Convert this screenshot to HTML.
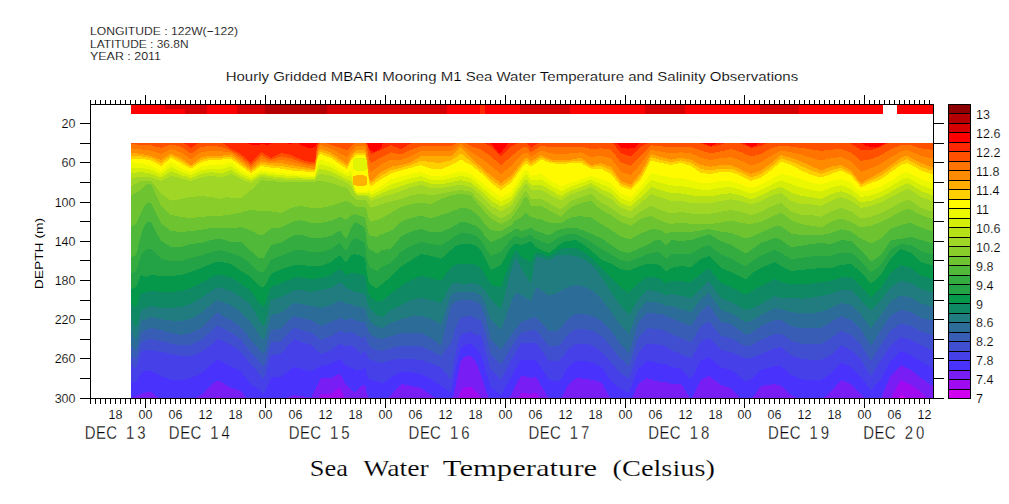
<!DOCTYPE html><html><head><meta charset="utf-8"><style>
html,body{margin:0;padding:0;background:#fff;width:1009px;height:504px;overflow:hidden}
svg{display:block}
text{font-family:"Liberation Sans",sans-serif;fill:#000}
</style></head><body>
<svg width="1009" height="504" viewBox="0 0 1009 504" shape-rendering="crispEdges">
<g><rect x="131" y="143" width="802" height="255" fill="#8c0000"/><polygon points="131,398 131,143 933,143 933,398" fill="#b40000"/><polygon points="131,398 131,143 933,143 933,398" fill="#d70000"/><polygon points="131,398 131,143 933,143 933,398" fill="#ff0000"/><polygon points="131,398 131,143 187,143 189,143.2 191,143.3 193,143 237,143 239,143.2 241,143.2 243,143 247,143 249,143.8 251,144.6 253,144.8 255,144.9 257,145.1 259,144.8 261,144.2 263,144 265,144.5 267,145 269,144.6 271,143.4 273,143 287,143 289,143.8 291,143.9 293,143 297,143 299,143.6 301,144.9 303,145.8 305,146.7 307,147.6 309,147.9 311,147.7 313,147.5 315,147.3 317,143 367,143 369,148.4 371,150.5 373,151.7 375,151.6 377,150.7 379,149.6 381,148 383,143.3 385,143 491,143 493,145.6 495,148.7 497,150.9 499,153.2 501,152.9 503,150.1 505,147.3 507,144.8 509,143 615,143 617,143.5 619,146 621,147.5 623,147.8 625,148.2 627,148.5 629,148.5 631,148.2 633,147.8 635,147.5 637,145.7 639,143 701,143 703,143.1 705,143.8 707,144.4 709,145.1 711,145.8 713,145.2 715,143.8 717,143 743,143 745,143.4 747,145.1 749,146 751,146.6 753,146.5 755,146.1 757,144.2 759,143 861,143 863,143.9 865,145.9 867,146.2 869,146.5 871,146.7 873,147 875,147.3 877,146.9 879,146.4 881,145.8 883,144.6 885,143.5 887,143 933,143 933,398" fill="#ff2800"/><polygon points="131,398 131,143 183,143 185,143.8 187,145.1 189,146.5 191,147.9 193,146.6 195,145.4 197,144.1 199,143 221,143 223,143.4 225,144.6 227,146 229,147.5 231,149 233,150.1 235,151.1 237,152.2 239,153.2 241,154.3 243,156 245,157.8 247,159.5 249,161.3 251,163 253,160.8 255,158.6 257,156.4 259,154.2 261,152 263,153.2 265,154.4 267,155.5 269,156.7 271,157.9 273,156.9 275,155.9 277,155 279,154 281,153 283,153.4 285,153.8 287,154.2 289,154.6 291,155 293,155.9 295,156.8 297,157.8 299,158.7 301,159.6 303,160.1 305,160.7 307,161.2 309,161.8 311,162.3 313,162.2 315,162 317,146 319,143 345,143 347,143.4 349,143 367,143 369,149.4 371,154.3 373,153.4 375,152.6 377,151.7 379,150.9 381,150 383,149 385,148.1 387,147.1 389,146.2 391,145.2 393,146 395,146.9 397,147.7 399,148.6 401,149.4 403,148.2 405,147 407,145.8 409,144.6 411,143.4 413,143 483,143 485,143.3 487,144.5 489,145.6 491,146.8 493,148.7 495,150.7 497,152.6 499,154.6 501,156.5 503,154.6 505,152.6 507,150.7 509,148.7 511,146.8 513,145.6 515,144.5 517,143.3 519,143 527,143 529,145.1 531,147.9 533,146.5 535,145.1 537,143.8 539,143 611,143 613,143.4 615,145.9 617,148.3 619,150.8 621,153.2 623,153.9 625,154.5 627,155.2 629,155.8 631,156.5 633,154.6 635,152.6 637,150.7 639,148.7 641,146.8 643,145.6 645,144.5 647,143.3 649,143 699,143 701,143.4 703,144.1 705,144.8 707,145.4 709,146.1 711,146.8 713,146.4 715,145.9 717,145.5 719,145 721,144.6 723,143.9 725,143.2 727,143 739,143 741,143.4 743,144.3 745,145.2 747,146.1 749,147 751,147.9 753,147.5 755,147.1 757,146.6 759,146.2 761,145.8 763,144.8 765,143.9 767,143 847,143 849,143.1 851,143.6 853,144.9 855,146.2 857,147.4 859,148.7 861,150 871,150 873,149.4 875,148.7 877,148.1 879,147.4 881,146.8 883,145.6 885,144.5 887,143.3 889,143 933,143 933,398" fill="#ff5000"/><polygon points="131,398 131,144.2 133,144.3 135,144.4 137,144.5 139,144.6 141,144.7 143,144.8 145,144.9 147,145.1 149,145.2 151,145.3 153,145.9 155,146.4 157,146.9 159,147.3 161,147.7 163,147.1 165,146.4 167,145.8 169,145.1 171,144.5 173,144.9 175,145.4 177,145.8 179,146.2 181,146.7 183,148.1 185,149.4 187,150.8 189,152.2 191,153.6 193,152.3 195,150.9 197,149.6 199,148.2 201,146.9 203,146.7 205,146.5 207,146.3 209,146 211,145.8 213,146 215,146.2 217,146.4 219,146.6 221,146.8 223,147.5 225,148.1 227,148.9 229,149.8 231,150.8 233,151.9 235,153.1 237,154.3 239,155.5 241,156.7 243,158.4 245,160.1 247,161.8 249,163.5 251,165.2 253,163.2 255,161.2 257,159.1 259,157.1 261,155.1 263,156 265,156.9 267,157.9 269,158.8 271,159.7 273,159 275,158.4 277,157.7 279,157.1 281,156.4 283,156.8 285,157.2 287,157.6 289,157.9 291,158.3 293,159.1 295,159.8 297,160.5 299,161.3 301,162 303,162.5 305,163 307,163.4 309,163.9 311,164.4 313,164.3 315,164.2 317,149.4 319,143 325,143 327,143.6 329,144.2 331,144.8 333,145.5 335,146.1 337,146.7 339,147.4 341,148 343,148.8 345,149.5 347,150.3 349,148.1 351,146 353,144.4 355,143 365,143 367,147.6 369,158.9 371,163.2 373,162 375,160.9 377,159.7 379,158.5 381,157.3 383,156.3 385,155.4 387,154.4 389,153.4 391,152.4 393,152.8 395,153.3 397,153.7 399,154.2 401,154.6 403,153.6 405,152.6 407,151.7 409,150.7 411,149.7 413,149 415,148.2 417,147.5 419,146.7 421,146 451,146 453,145 455,144 457,143 465,143 467,144 469,145 471,146 473,146.7 475,147.4 477,148.1 479,148.9 481,149.6 483,151 485,152.3 487,153.7 489,155.1 491,156.4 493,158.2 495,160 497,161.8 499,163.5 501,165.3 503,163.5 505,161.8 507,160 509,158.2 511,156.4 513,154.8 515,153.2 517,151.6 519,150 521,148.3 523,147.5 525,146.7 527,147.5 529,150 531,152.4 533,151.1 535,149.7 537,148.4 539,147.1 541,145.7 543,146 545,146.3 547,146.6 549,146.9 551,147.2 553,147.3 555,147.3 557,147.4 559,147.4 561,147.5 563,147.4 565,147.4 567,147.3 569,147.3 571,147.2 573,147.1 575,147 577,146.9 579,146.7 581,146.6 583,147.1 585,147.6 587,148.1 589,148.5 591,149 593,148.9 595,148.8 597,148.6 599,148.5 601,148.4 603,148.6 605,148.9 607,149.1 609,149.4 611,149.6 613,152.2 615,154.7 617,157.3 619,159.9 621,162.5 623,163.1 625,163.8 627,164.5 629,165.2 631,165.9 633,163.7 635,161.6 637,159.5 639,157.3 641,155.2 643,153.2 645,151.3 647,149.3 649,147.3 651,145.3 653,145.5 655,145.7 657,145.9 659,146.1 661,146.3 663,146.5 665,146.7 667,146.9 669,147 671,147.2 673,147.1 675,147 677,146.9 679,146.7 681,146.6 683,146.7 685,146.9 687,147 689,147.1 691,147.2 693,147.9 695,148.6 697,149.2 699,149.9 701,150.6 703,151.2 705,151.7 707,152.3 709,152.9 711,153.5 713,153.1 715,152.6 717,152.2 719,151.8 721,151.4 723,150.9 725,150.4 727,150 729,149.5 731,149 733,149.6 735,150.2 737,150.9 739,151.5 741,152.1 743,153 745,153.9 747,154.8 749,155.7 751,156.6 753,156.1 755,155.6 757,155 759,154.5 761,154 763,152.9 765,151.8 767,150.6 769,149.5 771,148.4 773,147.9 775,147.3 777,146.8 779,146.2 781,145.7 783,145.9 785,146.1 787,146.2 789,146.4 791,146.6 793,146.9 795,147.1 797,147.3 799,147.6 801,147.8 803,148.1 805,148.4 807,148.7 809,149 811,149.3 813,149.6 815,149.9 817,150.2 819,150.5 821,150.8 823,150.6 825,150.3 827,150.1 829,149.8 831,149.6 833,149.5 835,149.4 837,149.2 839,149.1 841,149 843,149.7 845,150.4 847,151.1 849,151.8 851,152.5 853,154.2 855,155.9 857,157.6 859,159.3 861,161 863,160.6 865,160.2 867,159.9 869,159.5 871,159.2 873,158.4 875,157.6 877,156.8 879,156 881,155.2 883,154 885,152.7 887,151.5 889,150.2 891,149 893,148.3 895,147.5 897,146.8 899,146 901,145.3 903,145 905,144.8 907,144.5 909,144.9 911,145.3 913,145.9 915,146.5 917,147.2 919,147.8 921,148.4 923,148.6 925,148.9 927,149.1 929,149.4 931,149.6 933,149.6 933,398" fill="#ff7300"/><polygon points="131,398 131,148.3 133,148.5 135,148.7 137,148.9 139,149.1 141,149.3 143,149.6 145,149.9 147,150.1 149,150.4 151,150.7 153,151.3 155,152 157,152.6 159,153.3 161,153.9 163,152.9 165,151.9 167,150.9 169,150 171,149 173,149.7 175,150.3 177,151 179,151.7 181,152.3 183,153.7 185,155.1 187,156.5 189,157.9 191,159.3 193,157.9 195,156.5 197,155 199,153.6 201,152.2 203,151.9 205,151.6 207,151.3 209,151 211,150.7 213,150.8 215,151 217,151.1 219,151.3 221,151.4 223,151.5 225,151.7 227,151.9 229,152.2 231,152.5 233,153.8 235,155.1 237,156.4 239,157.7 241,159 243,160.7 245,162.4 247,164 249,165.7 251,167.3 253,165.5 255,163.7 257,161.9 259,160.1 261,158.3 263,158.9 265,159.5 267,160.2 269,160.8 271,161.4 273,161.1 275,160.8 277,160.5 279,160.1 281,159.8 283,160.2 285,160.5 287,160.9 289,161.3 291,161.7 293,162.2 295,162.8 297,163.3 299,163.9 301,164.4 303,164.8 305,165.2 307,165.7 309,166.1 311,166.5 313,166.4 315,166.3 317,152.8 319,145.8 321,145.3 323,146 325,146.7 327,147.3 329,148 331,148.7 333,149.7 335,150.7 337,151.7 339,152.8 341,153.8 343,154.9 345,156 347,157.1 349,154.1 351,151 353,149 355,147 357,146 365,146 367,153.5 369,168.5 371,172.1 373,170.6 375,169.1 377,167.6 379,166.2 381,164.7 383,163.7 385,162.6 387,161.6 389,160.6 391,159.6 393,159.6 395,159.7 397,159.7 399,159.8 401,159.8 403,159 405,158.3 407,157.5 409,156.8 411,156 413,155 415,154 417,153 419,152 421,151 451,151 453,149.6 455,148.2 457,146.8 459,145.4 461,144 463,145.6 465,147.2 467,148.8 469,150.3 471,151.9 473,153.2 475,154.4 477,155.7 479,156.9 481,158.2 483,159.8 485,161.3 487,162.9 489,164.5 491,166.1 493,167.7 495,169.3 497,170.9 499,172.5 501,174.1 503,172.5 505,170.9 507,169.3 509,167.7 511,166.1 513,164 515,161.9 517,159.8 519,157.7 521,155.7 523,154.1 525,152.5 527,152.7 529,154.8 531,156.9 533,155.6 535,154.3 537,153 539,151.8 541,150.5 543,151.1 545,151.6 547,152.2 549,152.8 551,153.4 553,153.5 555,153.6 557,153.8 559,153.9 561,154 563,153.9 565,153.8 567,153.6 569,153.5 571,153.4 573,153.2 575,152.9 577,152.7 579,152.5 581,152.3 583,153.2 585,154.2 587,155.1 589,156.1 591,157 593,156.8 595,156.5 597,156.3 599,156 601,155.8 603,156.3 605,156.8 607,157.2 609,157.7 611,158.2 613,160.9 615,163.6 617,166.3 619,169 621,171.7 623,172.4 625,173.1 627,173.8 629,174.5 631,175.2 633,172.9 635,170.6 637,168.3 639,165.9 641,163.6 643,160.8 645,158 647,155.2 649,152.5 651,149.7 653,150.1 655,150.5 657,150.9 659,151.3 661,151.7 663,152 665,152.4 667,152.7 669,153.1 671,153.4 673,153.2 675,152.9 677,152.7 679,152.5 681,152.3 683,152.5 685,152.7 687,152.9 689,153.2 691,153.4 693,154.3 695,155.2 697,156 699,156.9 701,157.8 703,158.3 705,158.7 707,159.2 709,159.7 711,160.1 713,159.7 715,159.4 717,159 719,158.6 721,158.2 723,158 725,157.7 727,157.5 729,157.2 731,157 733,157.8 735,158.5 737,159.3 739,160 741,160.8 743,161.7 745,162.6 747,163.5 749,164.4 751,165.3 753,164.7 755,164.1 757,163.4 759,162.8 761,162.2 763,160.9 765,159.6 767,158.4 769,157.1 771,155.8 773,154.7 775,153.6 777,152.5 779,151.4 781,150.3 783,150.7 785,151.1 787,151.5 789,151.9 791,152.3 793,152.7 795,153.2 797,153.7 799,154.1 801,154.6 803,155.2 805,155.8 807,156.4 809,157.1 811,157.7 813,158.3 815,158.8 817,159.4 819,160 821,160.6 823,160.1 825,159.6 827,159.2 829,158.7 831,158.2 833,158 835,157.7 837,157.5 839,157.2 841,157 843,157.9 845,158.8 847,159.7 849,160.6 851,161.5 853,163.6 855,165.7 857,167.7 859,169.8 861,171.9 863,171.2 865,170.5 867,169.8 869,169.1 871,168.3 873,167.4 875,166.4 877,165.5 879,164.5 881,163.6 883,162.3 885,161 887,159.6 889,158.3 891,157 893,155.9 895,154.8 897,153.8 899,152.7 901,151.6 903,151.1 905,150.5 907,150 909,150.8 911,151.6 913,152.4 915,153.3 917,154.1 919,155 921,155.8 923,156.3 925,156.8 927,157.2 929,157.7 931,158.2 933,158.2 933,398" fill="#ff8c00"/><polygon points="131,398 131,152.5 133,152.8 135,153.1 137,153.4 139,153.7 141,154 143,154.4 145,154.8 147,155.2 149,155.6 151,156 153,156.8 155,157.6 157,158.4 159,159.2 161,160 163,158.7 165,157.4 167,156.1 169,154.8 171,153.5 173,154.4 175,155.3 177,156.2 179,157.1 181,158 183,159.4 185,160.8 187,162.2 189,163.6 191,165 193,163.5 195,162 197,160.5 199,159 201,157.5 203,157.1 205,156.7 207,156.3 209,155.9 211,155.5 213,155.6 215,155.7 217,155.8 219,155.9 221,156 223,155.6 225,155.2 227,154.9 229,154.6 231,154.3 233,155.7 235,157.1 237,158.6 239,160 241,161.4 243,163 245,164.6 247,166.3 249,167.9 251,169.5 253,167.9 255,166.3 257,164.6 259,163 261,161.4 263,161.8 265,162.1 267,162.5 269,162.8 271,163.2 281,163.2 283,163.6 285,163.9 287,164.3 289,164.6 291,165 293,165.4 295,165.7 297,166.1 299,166.4 301,166.8 303,167.2 305,167.5 307,167.9 309,168.2 311,168.6 313,168.6 315,168.5 317,156.2 319,149.7 321,149 323,149.7 325,150.4 327,151.1 329,151.8 331,152.5 333,153.9 335,155.3 337,156.8 339,158.2 341,159.6 343,161.1 345,162.5 347,164 349,160 351,156 353,153.6 355,151.2 357,150 365,150 367,159.3 369,178 371,181 373,179.2 375,177.4 377,175.6 379,173.8 381,172 383,171 385,169.9 387,168.9 389,167.8 391,166.8 393,166.4 395,166.1 397,165.7 399,165.4 401,165 403,164.5 405,163.9 407,163.4 409,162.8 411,162.3 413,161 415,159.8 417,158.5 419,157.3 421,156 451,156 453,154.2 455,152.4 457,150.6 459,148.8 461,147 463,149.2 465,151.4 467,153.5 469,155.7 471,157.9 473,159.7 475,161.5 477,163.2 479,165 481,166.8 483,168.6 485,170.4 487,172.1 489,173.9 491,175.7 493,177.1 495,178.6 497,180 499,181.5 501,182.9 503,181.5 505,180 507,178.6 509,177.1 511,175.7 513,173.2 515,170.6 517,168.1 519,165.5 521,163 523,160.6 525,158.2 527,157.9 529,159.6 531,161.4 533,160.2 535,158.9 537,157.7 539,156.4 541,155.2 543,156.1 545,157 547,157.8 549,158.7 551,159.6 553,159.8 555,160 557,160.1 559,160.3 561,160.5 563,160.3 565,160.1 567,160 569,159.8 571,159.6 573,159.3 575,158.9 577,158.6 579,158.2 581,157.9 583,159.3 585,160.7 587,162.2 589,163.6 591,165 593,164.6 595,164.3 597,163.9 599,163.6 601,163.2 603,163.9 605,164.6 607,165.4 609,166.1 611,166.8 613,169.6 615,172.5 617,175.3 619,178.2 621,181 623,181.7 625,182.4 627,183.2 629,183.9 631,184.6 633,182.1 635,179.6 637,177 639,174.5 641,172 643,168.4 645,164.8 647,161.2 649,157.6 651,154 653,154.6 655,155.2 657,155.8 659,156.4 661,157 663,157.5 665,158 667,158.6 669,159.1 671,159.6 673,159.3 675,158.9 677,158.6 679,158.2 681,157.9 683,158.2 685,158.6 687,158.9 689,159.3 691,159.6 693,160.7 695,161.8 697,162.8 699,163.9 701,165 703,165.4 705,165.7 707,166.1 709,166.4 711,166.8 713,166.4 715,166.1 717,165.7 719,165.4 721,165 731,165 733,165.9 735,166.8 737,167.7 739,168.6 741,169.5 743,170.4 745,171.3 747,172.2 749,173.1 751,174 753,173.3 755,172.6 757,171.8 759,171.1 761,170.4 763,169 765,167.5 767,166.1 769,164.6 771,163.2 773,161.6 775,159.9 777,158.3 779,156.6 781,155 783,155.6 785,156.2 787,156.7 789,157.3 791,157.9 793,158.6 795,159.3 797,160 799,160.7 801,161.4 803,162.3 805,163.2 807,164.2 809,165.1 811,166 813,166.9 815,167.8 817,168.6 819,169.5 821,170.4 823,169.7 825,169 827,168.2 829,167.5 831,166.8 833,166.4 835,166.1 837,165.7 839,165.4 841,165 843,166.1 845,167.2 847,168.2 849,169.3 851,170.4 853,172.9 855,175.4 857,177.9 859,180.4 861,182.9 863,181.8 865,180.7 867,179.7 869,178.6 871,177.5 873,176.4 875,175.3 877,174.2 879,173.1 881,172 883,170.6 885,169.2 887,167.8 889,166.4 891,165 893,163.6 895,162.2 897,160.7 899,159.3 901,157.9 903,157.1 905,156.3 907,155.5 909,156.7 911,157.9 913,159 915,160 917,161.1 919,162.1 921,163.2 923,163.9 925,164.6 927,165.4 929,166.1 931,166.8 933,166.8 933,398" fill="#ffac00"/><polygon points="131,398 131,155.6 133,155.8 135,155.9 137,156.1 139,156.2 141,156.4 143,156.7 145,157.1 147,157.4 149,157.8 151,158.2 153,159.2 155,160 157,161 159,162 161,163 163,161.5 165,160.1 167,158.6 169,157.2 171,155.7 173,156.7 175,157.7 177,158.6 179,159.6 181,160.6 183,161.8 185,163.1 187,164.3 189,165.6 191,166.8 193,165.4 195,164 197,162.7 199,161.3 201,159.9 203,159.4 205,159 207,158.5 209,158 211,157.5 213,157.6 215,157.6 217,157.7 219,157.8 221,157.8 223,157.5 225,157.2 227,156.9 229,156.7 231,156.6 233,158 235,159.4 237,160.8 239,162.3 241,163.7 243,165.2 245,166.7 247,168.2 249,169.7 251,171.2 253,169.7 255,168.2 257,166.7 259,165.2 261,163.7 263,164 265,164.4 267,164.7 269,165.1 271,165.4 273,165.5 275,165.6 277,165.7 279,165.8 281,165.9 283,166.3 285,166.6 287,167 289,167.3 291,167.7 293,168 295,168.2 297,168.5 299,168.7 301,169 303,169.3 305,169.5 307,169.8 309,170 311,170.3 313,170.3 315,170.2 317,158.4 319,152.2 321,151.7 323,152.4 325,153.1 327,153.8 329,154.5 331,155.2 333,156.6 335,158 337,159.5 339,160.9 341,162.3 343,163.7 345,165.1 347,166.5 349,162.5 351,158.5 353,156.1 355,153.7 357,152.5 365,152.5 367,161.8 369,180.5 371,183.7 373,182.1 375,180.5 377,178.9 379,177.3 381,175.6 383,174.5 385,173.4 387,172.3 389,171.2 391,170.1 393,169.7 395,169.2 397,168.7 399,168.2 401,167.7 403,167.2 405,166.6 407,166.1 409,165.5 411,165 413,164.1 415,163.2 417,162.3 419,161.4 421,160.5 423,160.9 425,161.2 427,161.6 429,161.9 431,162.3 433,162.4 435,162.5 437,162.6 439,162.7 441,162.7 443,162.3 445,161.8 447,161.4 449,160.9 451,160.5 453,159.1 455,157.6 457,156.2 459,154.7 461,153.3 463,154.9 465,156.6 467,158.2 469,159.8 471,161.4 473,163.1 475,164.8 477,166.5 479,168.2 481,169.9 483,171.8 485,173.7 487,175.5 489,177.4 491,179.3 493,180.7 495,182.2 497,183.6 499,185 501,186.4 503,185 505,183.6 507,182.2 509,180.7 511,179.3 513,176.6 515,174 517,171.3 519,168.7 521,166 523,163.6 525,161.2 527,160.8 529,162.5 531,164.1 533,162.8 535,161.4 537,160.1 539,158.7 541,157.4 543,158.2 545,159 547,159.8 549,160.6 551,161.4 553,161.6 555,161.7 557,161.9 559,162.1 561,162.2 563,162.1 565,161.9 567,161.7 569,161.6 571,161.4 573,161.2 575,161.1 577,160.9 579,160.7 581,160.5 583,161.8 585,163 587,164.3 589,165.5 591,166.8 593,166.6 595,166.4 597,166.3 599,166.1 601,165.9 603,166.8 605,167.7 607,168.6 609,169.5 611,170.4 613,173.1 615,175.7 617,178.4 619,181 621,183.7 623,184.4 625,185.1 627,185.9 629,186.6 631,187.3 633,185 635,182.6 637,180.3 639,178 641,175.6 643,172 645,168.3 647,164.6 649,160.9 651,157.2 653,157.8 655,158.3 657,158.9 659,159.4 661,160 663,160.5 665,160.9 667,161.4 669,161.8 671,162.3 673,161.9 675,161.6 677,161.2 679,160.8 681,160.4 683,160.9 685,161.4 687,161.8 689,162.3 691,162.8 693,164 695,165.2 697,166.5 699,167.7 701,169 703,169.3 705,169.6 707,169.8 709,170.1 711,170.4 713,170 715,169.6 717,169.3 719,168.9 721,168.5 731,168.5 733,169.3 735,170.1 737,171 739,171.8 741,172.6 743,173.6 745,174.6 747,175.5 749,176.5 751,177.5 753,176.8 755,176.1 757,175.4 759,174.7 761,173.9 763,172.5 765,171.1 767,169.7 769,168.2 771,166.8 773,165.1 775,163.4 777,161.7 779,160 781,158.2 783,158.9 785,159.5 787,160.2 789,160.8 791,161.4 793,162.3 795,163.2 797,164.1 799,165 801,165.9 803,166.8 805,167.7 807,168.6 809,169.5 811,170.4 813,171.1 815,171.8 817,172.5 819,173.2 821,173.9 823,173.2 825,172.5 827,171.8 829,171.1 831,170.4 833,169.9 835,169.3 837,168.8 839,168.2 841,167.7 843,168.8 845,169.8 847,170.9 849,172 851,173 853,175.5 855,177.9 857,180.3 859,182.7 861,185.1 863,184.1 865,183.1 867,182.2 869,181.2 871,180.2 873,179.3 875,178.4 877,177.5 879,176.6 881,175.6 883,174.2 885,172.8 887,171.4 889,169.9 891,168.5 893,167.1 895,165.7 897,164.3 899,162.9 901,161.4 903,160.7 905,160 907,159.2 909,160.3 911,161.4 913,162.5 915,163.6 917,164.7 919,165.7 921,166.8 923,167.5 925,168.2 927,169 929,169.7 931,170.4 933,170.4 933,398" fill="#ffd000"/><polygon points="131,398 131,158.8 141,158.8 143,159.1 145,159.4 147,159.7 149,160.1 151,160.5 153,161.5 155,162.5 157,163.6 159,164.8 161,166 163,164.4 165,162.8 167,161.1 169,159.5 171,157.9 173,159 175,160 177,161.1 179,162.1 181,163.2 183,164.3 185,165.4 187,166.4 189,167.5 191,168.6 193,167.3 195,166.1 197,164.8 199,163.6 201,162.3 203,161.8 205,161.2 207,160.7 209,160.1 211,159.6 221,159.6 223,159.4 225,159.1 227,159 229,158.9 231,158.8 233,160.2 235,161.7 237,163.1 239,164.6 241,166 243,167.4 245,168.8 247,170.2 249,171.6 251,173 253,171.6 255,170.2 257,168.8 259,167.4 261,166 263,166.3 265,166.7 267,167 269,167.4 271,167.7 273,167.9 275,168.1 277,168.2 279,168.4 281,168.6 283,169 285,169.3 287,169.7 289,170 291,170.4 293,170.6 295,170.7 297,170.9 299,171 301,171.2 303,171.4 305,171.5 307,171.7 309,171.8 311,172 315,172 317,160.7 319,154.8 321,154.3 323,155 325,155.7 327,156.5 329,157.2 331,157.9 333,159.3 335,160.7 337,162.2 339,163.6 341,165 343,166.3 345,167.7 347,169 349,165 351,161 353,158.6 355,156.2 357,155 365,155 367,164.3 369,183 371,186.4 373,185 375,183.6 377,182.1 379,180.7 381,179.3 383,178.1 385,177 387,175.8 389,174.7 391,173.5 393,172.9 395,172.3 397,171.6 399,171 401,170.4 403,169.9 405,169.3 407,168.8 409,168.2 411,167.7 413,167.2 415,166.6 417,166.1 419,165.5 421,165 423,165.7 425,166.4 427,167.2 429,167.9 431,168.6 433,168.8 435,169 437,169.1 439,169.3 441,169.5 443,168.6 445,167.7 447,166.8 449,165.9 451,165 453,163.9 455,162.8 457,161.8 459,160.7 461,159.6 463,160.7 465,161.8 467,162.8 469,163.9 471,165 473,166.6 475,168.2 477,169.8 479,171.4 481,173 483,175 485,177 487,178.9 489,180.9 491,182.9 493,184.3 495,185.7 497,187.2 499,188.6 501,190 503,188.6 505,187.2 507,185.7 509,184.3 511,182.9 513,180.1 515,177.3 517,174.6 519,171.8 521,169 523,166.6 525,164.2 527,163.8 529,165.3 531,166.8 533,165.4 535,163.9 537,162.5 539,161 541,159.6 543,160.3 545,161 547,161.8 549,162.5 551,163.2 553,163.4 555,163.5 557,163.7 559,163.8 561,164 563,163.8 565,163.7 567,163.5 569,163.4 571,163.2 581,163.2 583,164.3 585,165.4 587,166.4 589,167.5 591,168.6 601,168.6 603,169.7 605,170.8 607,171.8 609,172.9 611,174 613,176.5 615,179 617,181.4 619,183.9 621,186.4 623,187.1 625,187.8 627,188.6 629,189.3 631,190 633,187.9 635,185.7 637,183.6 639,181.4 641,179.3 643,175.5 645,171.8 647,168 649,164.3 651,160.5 653,161 655,161.5 657,162 659,162.5 661,163 663,163.4 665,163.8 667,164.2 669,164.6 671,165 673,164.6 675,164.2 677,163.8 679,163.4 681,163 683,163.6 685,164.2 687,164.7 689,165.3 691,165.9 693,167.3 695,168.7 697,170.2 699,171.6 701,173 703,173.2 705,173.4 707,173.6 709,173.8 711,174 713,173.6 715,173.2 717,172.8 719,172.4 721,172 731,172 733,172.7 735,173.5 737,174.2 739,175 741,175.7 743,176.8 745,177.8 747,178.9 749,179.9 751,181 753,180.3 755,179.6 757,178.9 759,178.2 761,177.5 763,176.1 765,174.7 767,173.2 769,171.8 771,170.4 773,168.6 775,166.8 777,165.1 779,163.3 781,161.5 783,162.2 785,162.9 787,163.6 789,164.3 791,165 793,166.1 795,167.2 797,168.2 799,169.3 801,170.4 803,171.3 805,172.2 807,173 809,173.9 811,174.8 813,175.3 815,175.9 817,176.4 819,177 821,177.5 823,176.8 825,176.1 827,175.4 829,174.7 831,174 833,173.3 835,172.6 837,171.8 839,171.1 841,170.4 843,171.5 845,172.5 847,173.6 849,174.6 851,175.7 853,178 855,180.3 857,182.7 859,185 861,187.3 863,186.4 865,185.5 867,184.7 869,183.8 871,182.9 873,182.2 875,181.5 877,180.7 879,180 881,179.3 883,177.8 885,176.4 887,174.9 889,173.5 891,172 893,170.6 895,169.2 897,167.8 899,166.4 901,165 903,164.3 905,163.7 907,163 909,164 911,165 913,166.1 915,167.2 917,168.2 919,169.3 921,170.4 923,171.1 925,171.8 927,172.6 929,173.3 931,174 933,174 933,398" fill="#fffa00"/><polygon points="131,398 131,162.3 133,162.4 135,162.6 137,162.7 139,162.9 141,163 143,163.6 145,164.2 147,164.8 149,165.4 151,166 153,167 155,168 157,169 159,170 161,171 163,169.3 165,167.5 167,165.8 169,164 171,162.3 173,163.6 175,164.8 177,166.1 179,167.3 181,168.6 183,169.3 185,170 187,170.6 189,171.3 191,172 193,171 195,169.9 197,168.9 199,167.8 201,166.8 203,166.4 205,166.1 207,165.7 209,165.4 211,165 221,165 223,164.4 225,163.8 227,163.3 229,162.8 231,162.3 233,163.9 235,165.5 237,167.2 239,168.8 241,170.4 243,171.5 245,172.5 247,173.6 249,174.6 251,175.7 253,174.6 255,173.6 257,172.5 259,171.5 261,170.4 263,170.7 265,171 267,171.4 269,171.7 271,172 273,172.2 275,172.4 277,172.6 279,172.8 281,173 283,173.2 285,173.4 287,173.6 289,173.8 291,174 293,174.2 295,174.3 297,174.5 299,174.6 301,174.8 303,175 305,175.2 307,175.3 309,175.5 311,175.7 315,175.7 317,165.2 319,159.9 321,159.6 323,160.3 325,161 327,161.8 329,162.5 331,163.2 333,164.5 335,165.7 337,167 339,168.2 341,169.5 343,170.7 345,171.8 347,173 349,171.5 351,170 353,178.8 355,187.6 357,192 365,192 367,191 369,189 371,191.8 373,190.7 375,189.6 377,188.6 379,187.5 381,186.4 383,185 385,183.6 387,182.3 389,180.9 391,179.5 393,178.9 395,178.3 397,177.8 399,177.2 401,176.6 403,176.1 405,175.6 407,175 409,174.5 411,174 413,173.6 415,173.2 417,172.8 419,172.4 421,172 423,172.7 425,173.5 427,174.2 429,175 431,175.7 433,175.9 435,176.1 437,176.2 439,176.4 441,176.6 443,176.1 445,175.6 447,175 449,174.5 451,174 453,173.4 455,172.9 457,172.3 459,171.8 461,171.2 463,171.8 465,172.3 467,172.9 469,173.4 471,174 473,175.6 475,177.2 477,178.8 479,180.4 481,182 483,183.6 485,185.2 487,186.8 489,188.4 491,190 493,191.4 495,192.8 497,194.2 499,195.6 501,197 503,196 505,194.9 507,193.9 509,192.8 511,191.8 513,188.6 515,185.5 517,182.3 519,179.2 521,176 523,173 525,170.1 527,170 529,172.9 531,175.7 533,175.4 535,175 537,174.7 539,174.3 541,174 543,175.4 545,176.8 547,178.2 549,179.6 551,181 553,182.1 555,183.2 557,184.2 559,185.3 561,186.4 563,185.7 565,185 567,184.3 569,183.6 571,182.9 573,182.2 575,181.5 577,180.7 579,180 581,179.3 583,178.6 585,177.9 587,177.1 589,176.4 591,175.7 593,176.4 595,177.1 597,177.9 599,178.6 601,179.3 603,180 605,180.7 607,181.5 609,182.2 611,182.9 613,185 615,187.2 617,189.3 619,191.5 621,193.6 623,194.3 625,195 627,195.6 629,196.3 631,197 633,194.9 635,192.8 637,190.6 639,188.5 641,186.4 643,183.7 645,181 647,178.4 649,175.7 651,173 653,173.5 655,174.1 657,174.6 659,175.2 661,175.7 663,176.1 665,176.4 667,176.8 669,177.1 671,177.5 673,177.7 675,177.9 677,178 679,178.2 681,178.4 683,178.8 685,179.1 687,179.5 689,179.8 691,180.2 693,180.7 695,181.3 697,181.8 699,182.4 701,182.9 711,182.9 713,182.5 715,182.1 717,181.8 719,181.4 721,181 731,181 733,181.7 735,182.4 737,183.2 739,183.9 741,184.6 743,185.3 745,186 747,186.8 749,187.5 751,188.2 753,187.5 755,186.8 757,186 759,185.3 761,184.6 763,183.5 765,182.5 767,181.4 769,180.4 771,179.3 773,178.2 775,177.2 777,176.1 779,175.1 781,174 783,174.3 785,174.7 787,175 789,175.4 791,175.7 793,176.4 795,177.1 797,177.9 799,178.6 801,179.3 803,180 805,180.7 807,181.5 809,182.2 811,182.9 813,183.2 815,183.6 817,183.9 819,184.3 821,184.6 823,183.9 825,183.2 827,182.4 829,181.7 831,181 833,180.7 835,180.3 837,180 839,179.6 841,179.3 843,180 845,180.7 847,181.5 849,182.2 851,182.9 853,184.7 855,186.5 857,188.2 859,190 861,191.8 863,191.4 865,191.1 867,190.7 869,190.4 871,190 873,189.3 875,188.6 877,187.8 879,187.1 881,186.4 883,185.3 885,184.2 887,183.2 889,182.1 891,181 893,179.6 895,178.2 897,176.8 899,175.4 901,174 903,173.3 905,172.7 907,172 909,173 911,174 913,175.1 915,176.1 917,177.2 919,178.2 921,179.3 923,180 925,180.7 927,181.5 929,182.2 931,182.9 933,182.9 933,398" fill="#ebf800"/><polygon points="131,398 131,167.7 133,167.6 139,167.6 141,167.5 143,168 145,168.4 147,168.9 149,169.4 151,169.8 153,170.7 155,171.6 157,172.5 159,173.4 161,174.3 163,172.8 165,171.3 167,169.8 169,168.3 171,166.8 173,167.8 175,168.8 177,169.8 179,170.8 181,171.9 183,172.5 185,173.1 187,173.7 189,174.4 191,175 193,174.1 195,173.1 197,172.2 199,171.3 201,170.4 203,170 205,169.6 207,169.3 209,168.9 211,168.6 213,168.7 215,168.8 217,168.9 219,169 221,169.2 223,168.6 225,168 227,167.4 229,166.8 231,166.2 233,167.6 235,169.1 237,170.5 239,171.9 241,173.4 243,174.3 245,175.3 247,176.2 249,177.2 251,178.1 253,177 255,175.9 257,174.7 259,173.6 261,172.5 263,172.8 265,173.1 267,173.5 269,173.8 271,174.1 273,174.3 275,174.5 277,174.7 279,174.9 281,175.1 283,175.3 285,175.5 287,175.7 289,175.9 291,176.1 293,176.2 295,176.3 297,176.4 299,176.5 301,176.6 303,176.7 305,176.8 307,177 309,177.1 311,177.2 313,177.2 315,177.1 317,168.9 319,164.7 321,164.4 323,165 325,165.6 327,166.2 329,166.8 331,167.4 333,168.5 335,169.6 337,170.8 339,171.9 341,173.1 343,174.1 345,175.2 347,176.3 349,175.8 351,175.3 353,182.5 355,189.7 357,193.3 365,193.3 367,192.9 369,192 371,194.8 373,193.8 375,192.8 377,191.9 379,190.9 381,189.9 383,188.8 385,187.8 387,186.7 389,185.6 391,184.5 393,183.9 395,183.3 397,182.6 399,182 401,181.4 403,180.8 405,180.2 407,179.6 409,179 411,178.4 413,178 415,177.5 417,177.1 419,176.6 421,176.2 423,176.9 425,177.7 427,178.4 429,179.1 431,179.9 433,180 435,180.1 437,180.2 439,180.3 441,180.5 443,180 445,179.5 447,179.1 449,178.6 451,178.1 453,177.6 455,177.1 457,176.7 459,176.2 461,175.7 463,176.2 465,176.8 467,177.3 469,177.9 471,178.4 473,180 475,181.6 477,183.3 479,184.9 481,186.5 483,188.2 485,190 487,191.8 489,193.6 491,195.3 493,196.6 495,197.9 497,199.2 499,200.5 501,201.8 503,200.7 505,199.7 507,198.6 509,197.6 511,196.5 513,193.4 515,190.2 517,187 519,183.8 521,180.7 523,177.8 525,174.9 527,174.8 529,177.6 531,180.5 533,180.2 535,180 537,179.8 539,179.6 541,179.3 543,180.6 545,181.9 547,183.2 549,184.5 551,185.8 553,186.9 555,187.9 557,189 559,190.1 561,191.2 563,190.3 565,189.3 567,188.4 569,187.5 571,186.6 573,185.9 575,185.2 577,184.6 579,183.9 581,183.2 583,182.5 585,181.7 587,181 589,180.2 591,179.5 593,180.4 595,181.3 597,182.2 599,183.1 601,184.1 603,184.9 605,185.7 607,186.6 609,187.4 611,188.3 613,190.3 615,192.3 617,194.3 619,196.3 621,198.4 623,199.1 625,199.7 627,200.4 629,201.1 631,201.8 633,199.8 635,197.8 637,195.8 639,193.8 641,191.8 643,189.4 645,187.1 647,184.7 649,182.4 651,180 653,180.6 655,181.2 657,181.8 659,182.4 661,183 663,183.4 665,183.9 667,184.4 669,184.9 671,185.3 673,185.5 675,185.6 677,185.7 679,185.8 681,185.9 683,186.3 685,186.7 687,187 689,187.4 691,187.8 693,188.1 695,188.5 697,188.8 699,189.2 701,189.6 711,189.6 713,189.2 715,188.8 717,188.4 719,188 721,187.7 723,187.6 725,187.4 727,187.3 729,187.2 731,187.1 733,187.7 735,188.3 737,188.9 739,189.5 741,190.1 743,190.8 745,191.5 747,192.2 749,192.9 751,193.7 753,192.9 755,192.2 757,191.5 759,190.8 761,190.1 763,189 765,187.9 767,186.9 769,185.8 771,184.8 773,183.9 775,183 777,182.1 779,181.2 781,180.3 783,181.1 785,181.8 787,182.6 789,183.3 791,184 793,184.8 795,185.5 797,186.2 799,186.9 801,187.6 803,188.1 805,188.6 807,189.1 809,189.6 811,190 813,190.4 815,190.7 817,191.1 819,191.4 821,191.7 823,190.9 825,190.1 827,189.2 829,188.4 831,187.6 833,187.1 835,186.6 837,186.1 839,185.7 841,185.2 843,185.9 845,186.7 847,187.4 849,188.1 851,188.8 853,190.5 855,192.2 857,193.8 859,195.5 861,197.2 863,196.8 865,196.4 867,196.1 869,195.7 871,195.3 873,194.6 875,193.9 877,193.2 879,192.5 881,191.8 883,190.7 885,189.6 887,188.5 889,187.4 891,186.3 893,185.1 895,183.8 897,182.5 899,181.2 901,179.9 903,179.2 905,178.4 907,177.7 909,178.5 911,179.3 913,180.5 915,181.7 917,182.9 919,184 921,185.2 923,185.9 925,186.7 927,187.4 929,188.1 931,188.8 933,188.8 933,398" fill="#d4ee08"/><polygon points="131,398 131,173 133,172.8 135,172.6 137,172.5 139,172.3 141,172.1 143,172.4 145,172.7 147,173 149,173.3 151,173.7 153,174.4 155,175.1 157,175.9 159,176.8 161,177.7 163,176.4 165,175.1 167,173.8 169,172.5 171,171.2 173,172 175,172.8 177,173.6 179,174.4 181,175.1 183,175.7 185,176.3 187,176.9 189,177.4 191,178 193,177.2 195,176.4 197,175.6 199,174.7 201,173.9 203,173.6 205,173.2 207,172.9 209,172.5 211,172.1 213,172.4 215,172.6 217,172.9 219,173.1 221,173.3 223,172.7 225,172.1 227,171.5 229,170.8 231,170.1 233,171.3 235,172.6 237,173.8 239,175.1 241,176.3 243,177.2 245,178 247,178.9 249,179.7 251,180.6 253,179.4 255,178.2 257,176.9 259,175.7 261,174.5 263,174.9 265,175.2 267,175.6 269,175.9 271,176.3 273,176.5 275,176.6 277,176.8 279,177 281,177.2 283,177.4 285,177.6 287,177.8 289,177.9 291,178.1 293,178.2 295,178.2 297,178.3 299,178.3 301,178.4 303,178.5 305,178.5 307,178.6 309,178.6 311,178.7 313,178.6 315,178.6 317,172.6 319,169.5 321,169.2 323,169.7 325,170.1 327,170.6 329,171.1 331,171.5 333,172.6 335,173.6 337,174.6 339,175.6 341,176.6 343,177.6 345,178.6 347,179.6 349,180.1 351,180.7 353,186.3 355,191.9 357,194.7 365,194.7 367,194.8 369,195 371,197.7 373,196.9 375,196 377,195.2 379,194.3 381,193.5 383,192.7 385,191.9 387,191.1 389,190.3 391,189.5 393,188.8 395,188.2 397,187.5 399,186.9 401,186.2 403,185.5 405,184.9 407,184.2 409,183.5 411,182.9 413,182.4 415,181.9 417,181.4 419,180.9 421,180.4 423,181.1 425,181.9 427,182.6 429,183.3 431,184 433,184.1 435,184.2 437,184.2 439,184.3 441,184.3 443,183.9 445,183.5 447,183.1 449,182.7 451,182.3 453,181.8 455,181.4 457,181 459,180.6 461,180.1 463,180.7 465,181.2 467,181.8 469,182.3 471,182.9 473,184.5 475,186.1 477,187.7 479,189.3 481,190.9 483,192.9 485,194.8 487,196.8 489,198.7 491,200.7 493,201.9 495,203 497,204.2 499,205.4 501,206.6 503,205.5 505,204.5 507,203.4 509,202.3 511,201.3 513,198.1 515,194.9 517,191.7 519,188.5 521,185.3 523,182.5 525,179.6 527,179.6 529,182.4 531,185.2 533,185.1 535,185 537,184.9 539,184.8 541,184.7 543,185.9 545,187 547,188.2 549,189.4 551,190.6 553,191.7 555,192.7 557,193.8 559,194.9 561,195.9 563,194.8 565,193.7 567,192.6 569,191.4 571,190.3 573,189.7 575,189 577,188.4 579,187.7 581,187.1 583,186.3 585,185.6 587,184.8 589,184 591,183.2 593,184.4 595,185.5 597,186.6 599,187.7 601,188.8 603,189.8 605,190.8 607,191.7 609,192.7 611,193.6 613,195.5 615,197.4 617,199.3 619,201.2 621,203.1 623,203.8 625,204.5 627,205.2 629,205.9 631,206.6 633,204.7 635,202.8 637,200.9 639,199 641,197.1 643,195.1 645,193.1 647,191.1 649,189 651,187 653,187.6 655,188.3 657,188.9 659,189.6 661,190.2 663,190.8 665,191.4 667,192 669,192.6 671,193.2 673,193.2 675,193.3 677,193.3 679,193.4 681,193.5 683,193.8 685,194.2 687,194.6 689,195 691,195.3 693,195.5 695,195.7 697,195.9 699,196.1 701,196.2 711,196.2 713,195.9 715,195.5 717,195.1 719,194.7 721,194.3 723,194.1 725,193.9 727,193.7 729,193.4 731,193.2 733,193.7 735,194.1 737,194.6 739,195.1 741,195.5 743,196.3 745,197 747,197.7 749,198.4 751,199.1 753,198.4 755,197.7 757,197 759,196.3 761,195.5 763,194.5 765,193.4 767,192.4 769,191.3 771,190.2 773,189.5 775,188.8 777,188.1 779,187.4 781,186.7 783,187.8 785,188.9 787,190.1 789,191.2 791,192.4 793,193.1 795,193.8 797,194.5 799,195.2 801,196 803,196.2 805,196.4 807,196.7 809,196.9 811,197.2 813,197.5 815,197.8 817,198.2 819,198.5 821,198.9 823,197.9 825,197 827,196 829,195.1 831,194.1 833,193.5 835,192.9 837,192.3 839,191.7 841,191.1 843,191.8 845,192.6 847,193.3 849,194 851,194.8 853,196.3 855,197.9 857,199.4 859,201 861,202.5 863,202.2 865,201.8 867,201.4 869,201 871,200.7 873,200 875,199.3 877,198.5 879,197.8 881,197.1 883,196 885,194.9 887,193.9 889,192.8 891,191.7 893,190.5 895,189.3 897,188.2 899,187 901,185.9 903,185 905,184.2 907,183.3 909,184 911,184.7 913,186 915,187.2 917,188.5 919,189.8 921,191.1 923,191.8 925,192.6 927,193.3 929,194 931,194.8 933,194.8 933,398" fill="#b6e119"/><polygon points="131,398 131,178.4 133,178 135,177.7 137,177.3 139,177 141,176.6 143,176.8 145,176.9 147,177.1 149,177.3 151,177.5 153,178.1 155,178.7 157,179.4 159,180.2 161,181 163,179.9 165,178.9 167,177.8 169,176.8 171,175.7 173,176.2 175,176.8 177,177.3 179,177.9 181,178.4 183,178.9 185,179.4 187,180 189,180.5 191,181 193,180.3 195,179.6 197,178.9 199,178.2 201,177.5 203,177.1 205,176.8 207,176.4 209,176.1 211,175.7 213,176.1 215,176.4 217,176.8 219,177.1 221,177.5 223,176.9 225,176.3 227,175.6 229,174.8 231,174 233,175.1 235,176.1 237,177.2 239,178.2 241,179.3 243,180 245,180.8 247,181.5 249,182.3 251,183 253,181.7 255,180.4 257,179.2 259,177.9 261,176.6 263,177 265,177.3 267,177.7 269,178 271,178.4 273,178.6 275,178.8 277,178.9 279,179.1 281,179.3 283,179.5 285,179.7 287,179.8 289,180 291,180.2 311,180.2 313,180.1 315,180 317,176.3 319,174.3 321,174 323,174.3 325,174.7 327,175 329,175.4 331,175.7 333,176.6 335,177.5 337,178.4 339,179.3 341,180.2 343,181.1 345,182 347,182.9 349,184.4 351,186 353,190 355,194 357,196 365,196 367,196.7 369,198 371,200.7 373,200 375,199.2 377,198.5 379,197.7 381,197 383,196.5 385,196 387,195.5 389,195 391,194.5 393,193.8 395,193.1 397,192.4 399,191.7 401,191 403,190.3 405,189.5 407,188.8 409,188 411,187.3 413,186.8 415,186.2 417,185.7 419,185.1 421,184.6 423,185.3 425,186 427,186.8 429,187.5 431,188.2 441,188.2 443,187.8 445,187.5 447,187.1 449,186.8 451,186.4 453,186 455,185.7 457,185.3 459,185 461,184.6 463,185.1 465,185.7 467,186.2 469,186.8 471,187.3 473,188.9 475,190.5 477,192.2 479,193.8 481,195.4 483,197.5 485,199.6 487,201.8 489,203.9 491,206 493,207.1 495,208.2 497,209.2 499,210.3 501,211.4 503,210.3 505,209.2 507,208.2 509,207.1 511,206 513,202.8 515,199.6 517,196.4 519,193.2 521,190 523,187.2 525,184.4 527,184.4 529,187.2 531,190 541,190 543,191.1 545,192.2 547,193.2 549,194.3 551,195.4 553,196.5 555,197.5 557,198.6 559,199.6 561,200.7 563,199.4 565,198 567,196.7 569,195.3 571,194 573,193.4 575,192.8 577,192.2 579,191.6 581,191 583,190.2 585,189.4 587,188.6 589,187.8 591,187 593,188.3 595,189.6 597,191 599,192.3 601,193.6 603,194.7 605,195.8 607,196.8 609,197.9 611,199 613,200.8 615,202.6 617,204.3 619,206.1 621,207.9 623,208.6 625,209.3 627,210 629,210.7 631,211.4 633,209.6 635,207.8 637,206.1 639,204.3 641,202.5 643,200.8 645,199.1 647,197.4 649,195.7 651,194 653,194.7 655,195.4 657,196.1 659,196.8 661,197.5 663,198.2 665,198.9 667,199.6 669,200.3 671,201 681,201 683,201.4 685,201.8 687,202.1 689,202.5 691,202.9 711,202.9 713,202.5 715,202.1 717,201.8 719,201.4 721,201 723,200.7 725,200.3 727,200 729,199.6 731,199.3 733,199.6 735,200 737,200.3 739,200.7 741,201 743,201.7 745,202.4 747,203.2 749,203.9 751,204.6 753,203.9 755,203.2 757,202.4 759,201.7 761,201 763,199.9 765,198.9 767,197.8 769,196.8 771,195.7 773,195.2 775,194.6 777,194.1 779,193.5 781,193 783,194.5 785,196.1 787,197.6 789,199.2 791,200.7 793,201.4 795,202.1 797,202.9 799,203.6 801,204.3 811,204.3 813,204.6 815,205 817,205.3 819,205.7 821,206 823,204.9 825,203.9 827,202.8 829,201.8 831,200.7 833,200 835,199.2 837,198.5 839,197.7 841,197 843,197.7 845,198.5 847,199.2 849,200 851,200.7 853,202.1 855,203.6 857,205 859,206.5 861,207.9 863,207.5 865,207.1 867,206.8 869,206.4 871,206 873,205.3 875,204.6 877,203.9 879,203.2 881,202.5 883,201.4 885,200.3 887,199.2 889,198.1 891,197 893,196 895,194.9 897,193.9 899,192.8 901,191.8 903,190.9 905,189.9 907,189 909,189.5 911,190 913,191.4 915,192.8 917,194.2 919,195.6 921,197 923,197.7 925,198.5 927,199.2 929,200 931,200.7 933,200.7 933,398" fill="#a0d726"/><polygon points="131,398 131,186.4 133,185.3 135,184.2 137,183.2 139,182.1 141,181 151,181 153,183.4 155,185.8 157,188.3 159,191 161,193.6 163,195 165,196.4 167,197.9 169,199.3 171,200.7 173,200.4 175,200 177,199.7 179,199.3 181,199 183,198.6 185,198.2 187,197.8 189,197.4 191,197 193,196.8 195,196.6 197,196.4 199,196.2 201,196 203,196.2 205,196.4 207,196.6 209,196.8 211,197 213,197.4 215,197.8 217,198.2 219,198.6 221,199 223,198.2 225,197.4 227,197.2 229,197.6 231,198 241,198 243,196.4 245,194.8 247,193.2 249,191.6 251,190 253,188 255,186.1 257,184.1 259,182.2 261,180.2 263,180.4 265,180.5 267,180.7 269,180.8 271,181 273,181.2 275,181.4 277,181.6 279,181.8 281,182 315,182 317,181.3 319,181 321,181 323,181.4 325,181.8 327,182.1 329,182.5 331,182.9 333,183.6 335,184.3 337,185 339,185.7 341,186.4 343,186.9 345,187.5 347,188 349,191 351,194 353,196.4 355,198.8 357,200 365,200 367,201.7 369,205 371,207.9 373,207.2 375,206.5 377,205.7 379,205 381,204.3 383,203.7 385,203.2 387,202.6 389,202.1 391,201.5 393,201 395,200.5 397,200 399,199.5 401,199 403,198.3 405,197.6 407,196.8 409,196.1 411,195.4 413,195 415,194.7 417,194.3 419,194 421,193.6 423,194 425,194.3 427,194.7 429,195 431,195.4 433,195 435,194.7 437,194.3 439,194 441,193.6 443,193.2 445,192.9 447,192.5 449,192.2 451,191.8 453,191.4 455,191.1 457,190.7 459,190.4 461,190 463,190.4 465,190.7 467,191.1 469,191.4 471,191.8 473,193.9 475,196.1 477,198.2 479,200.4 481,202.5 483,204.6 485,206.7 487,208.8 489,210.9 491,213 493,214.1 495,215.2 497,216.4 499,217.5 501,218.6 503,217.5 505,216.4 507,215.2 509,214.1 511,213 513,209.8 515,206.6 517,203.4 519,200.2 521,197 523,194.2 525,191.4 527,191.8 529,195.4 531,199 541,199 543,200.1 545,201.1 547,202.2 549,203.2 551,204.3 553,205.4 555,206.4 557,207.5 559,208.5 561,209.6 563,207.9 565,206.2 567,204.4 569,202.7 571,201 573,200.2 575,199.4 577,198.6 579,197.8 581,197 583,196.4 585,195.8 587,195.2 589,194.6 591,194 593,195.7 595,197.4 597,199.1 599,200.8 601,202.5 603,203.6 605,204.7 607,205.7 609,206.8 611,207.9 613,209.3 615,210.7 617,212.2 619,213.6 621,215 623,215.7 625,216.4 627,217.2 629,217.9 631,218.6 633,217.2 635,215.7 637,214.3 639,212.8 641,211.4 643,210.3 645,209.2 647,208.2 649,207.1 651,206 653,206.8 655,207.6 657,208.4 659,209.2 661,210 663,210.7 665,211.4 667,212.2 669,212.9 671,213.6 673,213.2 675,212.9 677,212.5 679,212.2 681,211.8 683,212.2 685,212.5 687,212.9 689,213.2 691,213.6 711,213.6 713,213.2 715,212.9 717,212.5 719,212.2 721,211.8 723,211.4 725,211.1 727,210.7 729,210.4 731,210 733,210.4 735,210.8 737,211.2 739,211.6 741,212 743,212.6 745,213.2 747,213.8 749,214.4 751,215 753,214.4 755,213.8 757,213.2 759,212.6 761,212 763,210.9 765,209.8 767,208.6 769,207.5 771,206.4 773,205.7 775,205 777,204.3 779,203.6 781,202.9 783,204.6 785,206.3 787,208 789,209.7 791,211.4 793,212.1 795,212.8 797,213.6 799,214.3 801,215 811,215 813,215.4 815,215.7 817,216.1 819,216.4 821,216.8 823,215.7 825,214.6 827,213.6 829,212.5 831,211.4 833,210.7 835,210 837,209.3 839,208.6 841,207.9 843,208.6 845,209.3 847,210 849,210.7 851,211.4 853,212.8 855,214.3 857,215.7 859,217.2 861,218.6 863,218.2 865,217.9 867,217.5 869,217.2 871,216.8 873,216 875,215.3 877,214.5 879,213.8 881,213 883,212 885,211 887,209.9 889,208.9 891,207.9 893,206.8 895,205.7 897,204.7 899,203.6 901,202.5 903,201.7 905,200.8 907,200 909,200.3 911,200.7 913,202.1 915,203.6 917,205 919,206.5 921,207.9 923,208.6 925,209.3 927,210 929,210.7 931,211.4 933,211.4 933,398" fill="#88cd2a"/><polygon points="131,398 131,195.4 133,194.3 135,193.2 137,192.2 139,191.1 141,190 143,187.8 145,185.7 147,184.5 149,184.2 151,184 153,188.4 155,192.8 157,197.2 159,201.6 161,206 163,207.8 165,209.6 167,211.4 169,213.2 171,215 173,215.4 175,215.8 177,216.2 179,216.6 181,217 183,217.2 185,217.4 187,217.6 189,217.8 191,218 193,217.8 195,217.6 197,217.4 199,217.2 201,217 203,216.8 205,216.6 207,216.4 209,216.2 211,216 221,216 223,215.6 225,215.2 227,214.9 229,214.7 231,214.5 233,214.1 235,213.7 237,213.3 239,212.9 241,212.5 243,211.9 245,211.3 247,210.8 249,210.2 251,209.6 253,210 255,210.3 257,210.7 259,211 261,211.4 271,211.4 273,211.7 275,212 277,212.4 279,212.7 281,213 283,212 285,211 287,209.9 289,208.9 291,207.9 293,207.5 295,207.1 297,206.8 299,206.4 301,206 303,206.4 305,206.8 307,207.1 309,207.5 311,207.9 313,207.9 315,208 319,208 321,207.9 323,207.5 325,207.1 327,206.8 329,206.4 331,206 333,205.3 335,204.6 337,203.9 339,203.2 341,202.5 343,201.9 345,201.3 347,200.7 349,201.8 351,203 353,204.6 355,206.2 357,207 365,207 367,211.3 369,220 371,222 373,221.3 375,220.6 377,220 379,219.3 381,218.6 383,217.5 385,216.4 387,215.2 389,214.1 391,213 393,211.8 395,210.6 397,209.4 399,208.2 401,207 403,206.5 405,205.9 407,205.4 409,204.8 411,204.3 413,203.9 415,203.6 417,203.2 419,202.9 421,202.5 423,202.9 425,203.2 427,203.6 429,203.9 431,204.3 433,203.2 435,202.2 437,201.1 439,200.1 441,199 443,198.3 445,197.6 447,196.8 449,196.1 451,195.4 453,195 455,194.7 457,194.3 459,194 461,193.6 463,194 465,194.3 467,194.7 469,195 471,195.4 473,197.9 475,200.4 477,202.9 479,205.4 481,207.9 483,210 485,212.2 487,214.3 489,216.5 491,218.6 493,219.7 495,220.8 497,221.8 499,222.9 501,224 503,222.9 505,221.8 507,220.8 509,219.7 511,218.6 513,215.7 515,212.8 517,209.8 519,206.9 521,204 523,200.4 525,196.8 527,197.2 529,201.6 531,206 541,206 543,207.1 545,208.2 547,209.2 549,210.3 551,211.4 553,212.5 555,213.6 557,214.6 559,215.7 561,216.8 563,214.8 565,212.9 567,210.9 569,209 571,207 573,206.2 575,205.4 577,204.6 579,203.8 581,203 583,202.6 585,202.2 587,201.8 589,201.4 591,201 593,202.7 595,204.4 597,206.2 599,207.9 601,209.6 603,210.7 605,211.8 607,212.8 609,213.9 611,215 613,216.4 615,217.8 617,219.2 619,220.6 621,222 623,222.7 625,223.5 627,224.2 629,225 631,225.7 633,224.3 635,222.9 637,221.4 639,220 641,218.6 643,218.1 645,217.6 647,217 649,216.5 651,216 653,216.9 655,217.9 657,218.8 659,219.8 661,220.7 663,221.4 665,222 667,222.7 669,223.3 671,224 673,223.7 675,223.4 677,223.1 679,222.8 681,222.5 683,222.8 685,223.1 687,223.4 689,223.7 691,224 711,224 713,223.7 715,223.4 717,223.1 719,222.8 721,222.5 723,222.1 725,221.8 727,221.4 729,221.1 731,220.7 733,221.2 735,221.6 737,222.1 739,222.5 741,223 743,223.2 745,223.4 747,223.6 749,223.8 751,224 753,223.6 755,223.2 757,222.8 759,222.4 761,222 763,221 765,220 767,219 769,218 771,217 773,216.1 775,215.2 777,214.3 779,213.4 781,212.5 783,214 785,215.5 787,217 789,218.5 791,220 793,220.8 795,221.6 797,222.4 799,223.2 801,224 803,224.3 805,224.7 807,225 809,225.4 811,225.7 813,226.1 815,226.4 817,226.8 819,227.1 821,227.5 823,226.4 825,225.3 827,224.2 829,223.1 831,222 833,221.3 835,220.6 837,220 839,219.3 841,218.6 843,219.3 845,220 847,220.6 849,221.3 851,222 853,223.1 855,224.2 857,225.3 859,226.4 861,227.5 863,227.1 865,226.8 867,226.4 869,226.1 871,225.7 873,225 875,224.2 877,223.5 879,222.7 881,222 883,221 885,219.9 887,218.9 889,217.8 891,216.8 893,215.7 895,214.6 897,213.6 899,212.5 901,211.4 903,210.6 905,209.8 907,209 909,209.3 911,209.6 913,210.7 915,211.8 917,212.8 919,213.9 921,215 923,215.7 925,216.4 927,217.2 929,217.9 931,218.6 933,218.6 933,398" fill="#6ec330"/><polygon points="131,398 131,226.2 133,225.5 135,224.7 137,222 139,217.2 141,212.5 143,208.8 145,205.1 147,203.2 149,203.1 151,203 153,207.2 155,211.4 157,215.5 159,219.5 161,223.5 163,225 165,226.5 167,228 169,229.5 171,231 173,231.2 175,231.4 177,231.6 179,231.8 181,232 183,231.8 185,231.6 187,231.4 189,231.2 191,231 193,230.8 195,230.6 197,230.4 199,230.2 201,230 203,229.6 205,229.2 207,228.8 209,228.4 211,228 213,227.9 215,227.7 217,227.6 219,227.5 221,227.5 223,227.6 225,227.7 227,227.8 229,228 231,228.2 233,228 235,227.8 237,227.6 239,227.4 241,227.2 243,227.9 245,228.5 247,229.1 249,229.7 251,230.3 253,231.5 255,232.7 257,233.8 259,234.5 261,234.7 263,234.7 265,233.8 267,231.9 269,230.1 271,228.2 273,228.1 275,228 277,227.9 279,227.8 281,227.7 283,226.7 285,225.6 287,224.6 289,223.5 291,222.4 293,221.8 295,221.1 297,220.8 299,220.5 301,220.2 303,220.8 305,221.3 307,221.8 309,222.3 311,222.8 313,222.9 317,222.9 319,223 321,222.9 323,222.6 325,222.2 327,221.8 329,221.4 331,221 333,220 335,219 337,217.9 339,216.9 341,217.1 343,218.4 345,219.8 347,219.1 349,217.3 351,215.5 353,214.8 355,214.1 357,215 359,215.5 361,216 363,216.7 365,217.5 367,227 369,235 371,236 373,236.3 375,236.5 377,236.8 379,235.7 381,234.7 383,233.7 385,233 387,232.3 389,231.6 391,230.9 393,229.1 395,227.2 397,225.4 399,223.6 401,221.7 403,221 405,220.2 407,219.5 409,218.7 411,218 413,217.5 415,217.1 417,216.6 419,216.2 421,215.7 423,216.2 425,216.7 427,217.2 429,217.7 431,218.1 433,217.6 435,217 437,216.5 439,215.9 441,215.3 443,214.6 445,213.9 447,213.2 449,212.4 451,211.7 453,210.9 455,210.1 457,209.4 459,208.6 461,207.8 463,208 465,208.2 467,208.5 469,209.1 471,209.7 473,211.3 475,213 477,214.8 479,216.9 481,218.9 483,221.6 485,224.3 487,226.6 489,228.4 491,230.3 493,230.4 495,230.6 497,230.7 499,230.9 501,231 503,229.9 505,228.7 507,227.6 509,226.4 511,225.3 513,223 515,220.8 517,219.2 519,218.4 521,217.5 523,215.4 525,213.3 527,213.2 529,215.1 531,217 533,217.6 535,218.2 537,218.7 539,219 541,219.3 543,220.1 545,221 547,221.8 549,222.7 551,222.6 557,222.6 559,222.8 561,223.1 563,221.9 565,220.7 567,219.5 569,218.5 571,217.5 573,217.1 575,216.7 577,216.5 579,216.4 581,216.3 583,216.5 585,216.6 587,216.8 589,217.1 591,217.3 593,218.6 595,219.9 597,221.3 599,222.6 601,223.9 603,225 605,226.2 607,227.5 609,228.7 611,230 613,231.4 615,232.7 617,234.1 619,235.5 621,236.6 623,237.2 625,237.8 627,238.4 629,239 631,238.9 633,237.8 635,236.6 637,235.4 639,234.3 641,233.1 643,232.4 645,231.7 647,231 649,230.2 651,229.4 653,229.3 655,229.2 657,229.4 659,229.9 661,230.3 663,231.9 665,233.4 667,233.7 669,232.9 671,232 673,231.9 675,231.9 677,231.8 679,231.8 681,231.7 683,231.8 685,231.8 687,231.9 689,231.9 691,232 693,231.7 695,231.4 697,231.1 699,230.8 701,230.5 703,230.1 705,229.7 707,229.4 709,229 711,229.6 713,230 715,230.4 717,230.9 719,231.3 721,231.7 723,232 725,232.2 727,232.4 729,232.6 731,232.8 733,233.7 735,234.5 737,235.3 739,236.1 741,236.9 743,237.5 745,238.2 747,238.2 749,237.6 751,237 753,236.1 755,235.2 757,234.3 759,233.4 761,232.5 763,231.6 765,230.7 767,229.9 769,229 771,228.1 773,227.3 775,226.4 777,226.4 779,226.3 781,226.2 783,227.7 785,229.1 787,230.6 789,232 791,233.5 793,233.8 795,234.1 797,234.4 799,234.7 801,235 803,235 805,234.9 809,234.9 811,234.8 813,234.9 815,235 817,235.1 819,235.2 821,235.2 823,234.8 825,234.3 827,233.9 829,233.4 831,233 833,232.3 835,231.5 837,230.8 839,230 841,229.3 843,229.7 845,230.2 847,230.6 849,231.1 851,231.5 853,232.9 855,234.4 857,235.8 859,237.3 861,238.7 863,239.7 865,240.7 867,241.7 869,242.6 871,243.6 873,242.6 875,241.6 877,240.5 879,239.5 881,238.5 883,236.5 885,234.5 887,232.4 889,230.4 891,228.4 893,227.8 895,227.1 897,226.5 899,225.8 901,225.2 903,224.6 905,224 907,223.4 909,223.3 911,223.3 913,224.1 915,225 917,225.8 919,226.7 921,227.5 923,228.2 925,228.8 927,229.5 929,230.1 931,230.8 933,230.8 933,398" fill="#50b93a"/><polygon points="131,398 131,257 133,256.6 135,256.2 137,251.8 139,243.4 141,235 143,229.8 145,224.6 147,222 151,222 153,226 155,230 157,233.8 159,237.4 161,241 163,242.2 165,243.4 167,244.6 169,245.8 171,247 181,247 183,246.4 185,245.8 187,245.2 189,244.6 191,244 193,243.8 195,243.6 197,243.4 199,243.2 201,243 203,242.4 205,241.8 207,241.2 209,240.6 211,240 213,239.7 215,239.4 217,239.1 219,239 221,239 223,239.6 225,240.2 227,240.8 229,241.4 231,242 241,242 243,243.8 245,245.6 247,247.4 249,249.2 251,251 253,253 255,255 257,257 259,258 263,258 265,256.1 267,252.4 269,248.7 271,245 273,244.5 275,244 277,243.5 279,243 281,242.5 283,241.4 285,240.3 287,239.2 289,238.1 291,237 293,236 295,235 297,234.8 299,234.7 301,234.5 303,235.1 305,235.8 307,236.4 309,237.1 311,237.7 313,237.8 315,237.8 317,237.9 319,237.9 321,238 323,237.6 325,237.2 327,236.8 329,236.4 331,236 333,234.7 335,233.3 337,232 339,230.7 341,231.7 343,235 345,238.3 347,237.6 349,232.8 351,228 353,225 355,222 357,223 359,224 361,225 363,226.5 365,228 367,242.7 369,250 371,250 373,251.2 375,252.4 377,253.6 379,252.2 381,250.7 383,249.9 385,249.6 387,249.3 389,249.1 391,248.8 393,246.3 395,243.9 397,241.4 399,239 401,236.5 403,235.5 405,234.6 407,233.6 409,232.7 411,231.7 413,231.2 415,230.6 417,230.1 419,229.5 421,229 423,229.6 425,230.2 427,230.8 429,231.4 431,232 433,231.9 435,231.9 437,231.8 439,231.8 441,231.7 443,231 445,230.2 447,229.5 449,228.7 451,228 453,226.8 455,225.6 457,224.4 459,223.2 461,222 465,222 467,222.4 469,223.2 471,224 473,224.8 475,225.6 477,226.8 479,228.4 481,230 483,233.2 485,236.4 487,238.8 489,240.4 491,242 493,241.2 495,240.4 497,239.6 499,238.8 501,238 503,236.8 505,235.6 507,234.4 509,233.2 511,232 513,230.4 515,228.8 517,228.6 519,229.8 521,231 523,230.4 525,229.8 527,229.2 529,228.6 531,228 533,229.2 535,230.4 537,231.3 539,231.9 541,232.5 543,233.2 545,233.8 547,234.4 549,235 551,233.9 553,232.8 555,231.7 557,230.6 559,229.8 561,229.4 563,229 565,228.5 567,228 575,228 577,228.3 579,229 581,229.7 583,230.3 585,231 587,231.9 589,232.8 591,233.7 593,234.6 595,235.4 597,236.3 599,237.2 601,238.2 603,239.3 605,240.7 607,242.2 609,243.6 611,245 613,246.3 615,247.7 617,249 619,250.3 621,251.2 623,251.7 625,252.1 627,252.6 629,253 631,252.1 633,251.2 635,250.3 637,249.4 639,248.6 641,247.7 643,246.8 645,245.9 647,245 649,243.9 651,242.8 653,241.7 655,240.6 657,240 661,240 663,242.4 665,244.8 667,244.8 669,242.4 671,240 673,240.2 675,240.4 677,240.6 679,240.8 681,241 683,240.8 685,240.6 687,240.4 689,240.2 691,240 693,239.4 695,238.8 697,238.2 699,237.6 701,237 703,236.2 705,235.5 707,234.8 709,234 711,235.2 713,236.3 715,237.5 717,238.7 719,239.8 721,241 723,241.8 725,242.6 727,243.4 729,244.2 731,245 733,246.1 735,247.3 737,248.4 739,249.6 741,250.7 743,251.9 745,253 747,252.9 749,251.4 751,250 753,248.6 755,247.2 757,245.8 759,244.4 761,243 763,242.2 765,241.5 767,240.7 769,240 771,239.2 773,238.5 775,237.7 777,238.5 779,239.2 781,240 783,241.4 785,242.8 787,244.2 789,245.6 791,247 793,246.8 795,246.6 797,246.4 799,246.2 801,246 803,245.6 805,245.2 807,244.8 809,244.4 811,244 813,243.8 815,243.6 817,243.4 819,243.2 821,243 823,243.2 825,243.4 827,243.6 829,243.8 831,244 833,243.2 835,242.4 837,241.6 839,240.8 841,240 843,240.2 845,240.4 847,240.6 849,240.8 851,241 853,242.8 855,244.6 857,246.4 859,248.2 861,250 863,252.3 865,254.6 867,256.9 869,259.2 871,261.5 873,260.2 875,258.9 877,257.6 879,256.3 881,255 883,252 885,249 887,246 889,243 891,240 893,239.8 895,239.6 897,239.4 899,239.2 901,239 903,238.6 905,238.2 907,237.8 909,237.4 911,237 913,237.6 915,238.2 917,238.8 919,239.4 921,240 923,240.6 925,241.2 927,241.8 929,242.4 931,243 933,243 933,398" fill="#34ac40"/><polygon points="131,398 131,273 133,272.6 135,272.2 137,268.6 139,261.8 141,255 143,252.8 145,250.6 147,249.3 149,248.9 151,248.5 153,250.6 155,252.7 157,254.7 159,256.6 161,258.5 163,259.1 165,259.7 167,260.3 169,260.9 171,261.5 173,261.4 175,261.3 177,261.2 179,261.1 181,261 183,260.4 185,259.8 187,259.2 189,258.6 191,258 193,257.5 195,257 197,256.5 199,256 201,255.5 203,254.8 205,254.1 207,253.4 209,252.7 211,252 213,251.5 215,251 217,250.5 219,250.3 221,250.5 223,251 225,251.5 227,252 229,252.5 231,253 233,253.7 235,254.4 237,255.1 239,255.8 241,256.5 243,258 245,259.5 247,261 249,262.5 251,264 253,266.1 255,268.3 257,270.4 259,271.7 261,272.2 263,272.7 265,271.1 267,267.2 269,263.4 271,259.5 273,258.8 275,258.1 277,257.4 279,256.7 281,255.9 283,255.1 285,254.2 287,253.3 289,252.4 291,251.5 293,250.7 295,250 297,249.9 299,249.7 301,249.6 303,250.1 305,250.6 307,251 309,251.5 311,252 321,252 323,251.4 325,250.8 327,250.2 329,249.6 331,249 333,247.6 335,246.1 337,244.7 339,243.2 341,244 343,247 345,250 347,249.5 349,245.5 351,241.5 353,239.7 355,238 357,238.8 359,239.7 361,240.5 363,241.7 365,243 367,258.3 369,266.5 371,267.5 373,268.7 375,269.9 377,271 379,269.4 381,267.8 383,266.5 385,265.6 387,264.7 389,263.8 391,262.9 393,260.6 395,258.4 397,256.1 399,253.8 401,251.5 403,250.4 405,249.3 407,248.2 409,247.1 411,246 413,245.1 415,244.2 417,243.3 419,242.4 421,241.5 423,242 425,242.5 427,243 429,243.5 431,244 433,244.2 435,244.5 437,244.7 439,245 441,245.2 443,244 445,242.7 447,241.5 449,240.2 451,239 453,237.6 455,236.2 457,235 459,234 461,233 465,233 467,233.2 469,233.6 471,234 473,234.8 475,235.6 477,236.8 479,238.4 481,240 483,243.6 485,247.2 487,250.4 489,253.2 491,256 493,255.1 495,254.2 497,253.3 499,252.4 501,251.5 503,249.1 505,246.7 507,244.3 509,241.9 511,239.5 513,237.9 515,236.3 517,236.1 519,237.2 521,238.3 523,237.5 525,236.8 527,236 529,235.3 531,234.5 533,236.4 535,238.3 537,239.6 539,240.3 541,241.1 543,241.8 545,242.5 547,243.3 549,244 551,242.6 553,241.3 555,239.9 557,238.5 559,237.4 561,236.4 563,235.5 565,235 567,234.5 569,234.4 571,234.3 573,234.2 575,234.1 577,234.5 579,235.4 581,236.4 583,237.4 585,238.3 587,239.6 589,240.9 591,242.1 593,243.4 595,244.7 597,246 599,247.3 601,248.6 603,249.9 605,251 607,252.1 609,253.2 611,254.3 613,255.6 615,256.8 617,258.1 619,259.4 621,260.2 623,260.6 625,261 627,261.4 629,261.8 631,261 633,260.1 635,259.3 637,258.4 639,257.6 641,256.8 643,255.9 645,255.1 647,254.3 649,253.8 651,253.3 653,252.8 655,252.3 657,252.2 659,252.6 661,253 663,255.4 665,257.8 667,258 669,256 671,254 673,253.9 675,253.8 677,253.7 679,253.6 681,253.5 691,253.5 693,252.4 695,251.3 697,250.2 699,249.1 701,248 703,247.2 705,246.5 707,245.7 709,245 711,246.6 713,248.2 715,249.7 717,251.3 719,252.9 721,254.5 723,255.3 725,256.1 727,256.9 729,257.7 731,258.5 733,259.6 735,260.7 737,261.8 739,262.9 741,264 743,265.1 745,266.2 747,265.8 749,263.9 751,262 753,260.7 755,259.4 757,258.1 759,256.8 761,255.5 763,254.7 765,253.9 767,253.1 769,252.3 771,251.5 773,250.7 775,249.8 777,250.9 779,251.9 781,253 783,254.2 785,255.4 787,256.6 789,257.8 791,259 793,258.8 795,258.6 797,258.4 799,258.2 801,258 803,257.7 805,257.4 807,257.1 809,256.8 811,256.5 813,256.3 815,256.1 817,255.9 819,255.7 821,255.5 823,255.6 825,255.7 827,255.8 829,255.9 831,256 833,255.3 835,254.6 837,253.9 839,253.2 841,252.5 851,252.5 853,254.2 855,255.9 857,257.6 859,259.3 861,261 863,263.3 865,265.6 867,268 869,270.3 871,272.6 873,271.1 875,269.6 877,268 879,266.5 881,265 883,261.8 885,258.6 887,255.4 889,252.2 891,249 893,248 895,247 897,246 899,245 901,244 903,244.2 905,244.4 907,244.6 909,244.8 911,245 913,246.2 915,247.4 917,248.6 919,249.8 921,251 923,251.6 925,252.2 927,252.8 929,253.4 931,254 933,254 933,398" fill="#23a346"/><polygon points="131,398 131,289 133,288.6 135,288.2 137,285.4 139,280.2 141,275 143,275.8 145,276.6 147,276.6 149,275.8 151,275 153,275.2 155,275.4 157,275.6 159,275.8 161,276 171,276 173,275.8 175,275.6 177,275.4 179,275.2 181,275 183,274.4 185,273.8 187,273.2 189,272.6 191,272 193,271.2 195,270.4 197,269.6 199,268.8 201,268 203,267.2 205,266.4 207,265.6 209,264.8 211,264 213,263.3 215,262.6 217,261.9 219,261.7 221,262 223,262.4 225,262.8 227,263.2 229,263.6 231,264 233,265.4 235,266.8 237,268.2 239,269.6 241,271 243,272.2 245,273.4 247,274.6 249,275.8 251,277 253,279.3 255,281.6 257,283.9 259,285.5 261,286.5 263,287.5 265,286 267,282 269,278 271,274 273,273.1 275,272.2 277,271.2 279,270.3 281,269.4 283,268.7 285,268 287,267.4 289,266.7 291,266 293,265.5 295,265 297,264.9 299,264.8 301,264.7 303,265 305,265.3 307,265.7 309,266 311,266.3 313,266.2 315,266.2 317,266.1 319,266.1 321,266 323,265.2 325,264.4 327,263.6 329,262.8 331,262 333,260.4 335,258.9 337,257.3 339,255.8 341,256.3 343,259 345,261.7 347,261.4 349,258.2 351,255 353,254.5 355,254 357,254.7 359,255.3 361,256 363,257 365,258 367,274 369,283 371,285 373,286.2 375,287.3 377,288.5 379,286.7 381,284.9 383,283.2 385,281.7 387,280.1 389,278.6 391,277 393,274.9 395,272.8 397,270.8 399,268.7 401,266.6 403,265.3 405,264.1 407,262.8 409,261.6 411,260.3 413,259 415,257.8 417,256.5 419,255.3 421,254 423,254.4 425,254.8 427,255.2 429,255.6 431,256 433,256.5 435,257.1 437,257.6 439,258.2 441,258.7 443,257 445,255.2 447,253.5 449,251.7 451,250 453,248.4 455,246.8 457,245.6 459,244.8 461,244 471,244 473,244.8 475,245.6 477,246.8 479,248.4 481,250 483,254 485,258 487,262 489,266 491,270 493,269 495,268 497,267 499,266 501,265 503,261.4 505,257.8 507,254.2 509,250.6 511,247 513,245.4 515,243.8 517,243.5 519,244.6 521,245.6 523,244.7 525,243.8 527,242.8 529,241.9 531,241 533,243.6 535,246.2 537,247.9 539,248.8 541,249.6 543,250.5 545,251.3 547,252.2 549,253 551,251.4 553,249.8 555,248.1 557,246.5 559,245 561,243.5 563,242 565,241.5 567,241 569,240.8 571,240.6 573,240.3 575,240.1 577,240.6 579,241.9 581,243.2 583,244.4 585,245.7 587,247.3 589,248.9 591,250.6 593,252.2 595,253.9 597,255.6 599,257.4 601,259.1 603,260.4 605,261.2 607,262 609,262.8 611,263.6 613,264.8 615,266 617,267.2 619,268.4 621,269.2 623,269.6 625,269.9 627,270.3 629,270.7 631,269.9 633,269.1 635,268.2 637,267.4 639,266.6 641,265.9 643,265.1 645,264.4 647,263.6 649,263.7 651,263.8 653,263.9 655,264 657,264.4 659,265.2 661,266 663,268.4 665,270.8 667,271.2 669,269.6 671,268 673,267.6 675,267.2 677,266.8 679,266.4 681,266 683,266.2 685,266.4 687,266.6 689,266.8 691,267 693,265.4 695,263.8 697,262.2 699,260.6 701,259 703,258.2 705,257.5 707,256.8 709,256 711,258 713,260 715,262 717,264 719,266 721,268 723,268.8 725,269.6 727,270.4 729,271.2 731,272 733,273 735,274.1 737,275.1 739,276.2 741,277.2 743,278.2 745,279.3 747,278.6 749,276.3 751,274 753,272.8 755,271.6 757,270.4 759,269.2 761,268 763,267.1 765,266.3 767,265.4 769,264.6 771,263.7 773,262.9 775,262 777,263.3 779,264.7 781,266 783,267 785,268 787,269 789,270 791,271 793,270.8 795,270.6 797,270.4 799,270.2 801,270 803,269.8 805,269.6 807,269.4 809,269.2 811,269 813,268.8 815,268.6 817,268.4 819,268.2 821,268 831,268 833,267.4 835,266.8 837,266.2 839,265.6 841,265 843,264.8 845,264.6 847,264.4 849,264.2 851,264 853,265.6 855,267.2 857,268.8 859,270.4 861,272 863,274.3 865,276.7 867,279 869,281.4 871,283.7 873,282 875,280.2 877,278.5 879,276.7 881,275 883,271.6 885,268.2 887,264.8 889,261.4 891,258 893,256.2 895,254.4 897,252.6 899,250.8 901,249 903,249.8 905,250.6 907,251.4 909,252.2 911,253 913,254.8 915,256.6 917,258.4 919,260.2 921,262 923,262.6 925,263.2 927,263.8 929,264.4 931,265 933,265 933,398" fill="#05984b"/><polygon points="131,398 131,303.5 133,305.7 135,307.9 137,305.7 139,299.1 141,292.5 145,292.5 147,292.1 149,291.3 151,290.5 153,290.8 155,291.1 157,291.4 159,291.7 161,292 171,292 173,291.8 175,291.6 177,291.4 179,291.2 181,291 183,290.4 185,289.8 187,289.2 189,288.6 191,288 193,287 195,286 197,285 199,284 201,283 203,281.9 205,280.8 207,279.7 209,278.6 211,277.5 213,276.6 215,275.6 217,274.7 219,274.5 221,275 223,275.5 225,276 227,276.5 229,277 231,277.5 233,278.8 235,280.1 237,281.4 239,282.7 241,284 243,285.4 245,286.8 247,288.2 249,289.6 251,291 253,294 255,297 257,300 259,302.6 261,304.8 263,306.9 265,305 267,299 269,293 271,287 273,286.2 275,285.5 277,284.7 279,284 281,283.2 283,282.4 285,281.5 287,280.7 289,279.8 291,279 293,278.2 295,277.5 297,277.4 301,277.4 303,277.7 305,278.1 307,278.4 309,278.8 311,279.1 313,278.9 315,278.7 317,278.5 319,278.2 321,278 323,277.4 325,276.8 327,276.2 329,275.6 331,275 333,273.6 335,272.1 337,270.7 339,269.2 341,269.7 343,272 345,274.3 347,274.9 349,273.7 351,272.5 353,272.8 355,273 357,273.5 359,274 361,274.5 363,275.2 365,276 367,287.7 369,294.8 371,297.5 373,298.9 375,300.3 377,301.8 379,301.4 381,301.1 383,300.2 385,298.5 387,296.8 389,295.2 391,293.5 393,292 395,290.4 397,288.9 399,287.3 401,285.8 403,284.7 405,283.5 407,282.4 409,281.3 411,280.1 413,279.3 415,278.5 417,277.7 419,276.8 421,276 423,276.4 425,276.8 427,277.2 429,277.6 431,278 433,278.6 435,279.1 437,279.7 439,280.3 441,280.9 443,278.2 445,275.5 447,272.8 449,270.2 451,267.5 453,266.1 455,264.7 457,264 465,264 467,263.9 469,263.7 471,263.5 473,264.1 475,264.7 477,265.6 479,266.8 481,268 483,271.2 485,274.4 487,277.8 489,281.4 491,285 493,285.5 495,286 497,286.5 499,287 501,287.5 503,281.7 505,275.9 507,270.1 509,264.3 511,258.5 513,254.9 515,251.3 517,251 519,253.9 521,256.8 523,257.9 525,259.1 527,260.2 529,261.4 531,262.5 533,258.2 535,253.9 537,252.1 539,252.8 541,253.6 543,254.3 545,255 547,255.8 549,256.5 551,255.1 553,253.8 555,252.4 557,251 559,249.9 561,249.1 563,248.3 565,248.2 567,248 575,248 577,248.5 579,249.6 581,250.7 583,251.8 585,252.8 587,254.4 589,256 591,257.6 593,259.2 595,261.1 597,263.4 599,265.6 601,267.9 603,270 605,271.9 607,273.9 609,275.8 611,277.8 613,279.8 615,281.9 617,283.9 619,286 621,287.6 623,288.9 625,290.2 627,291.5 629,292.9 631,290.8 633,288.7 635,286.6 637,284.5 639,282.8 641,281.3 643,279.8 645,278.3 647,276.8 649,277 651,277.1 653,277.3 655,277.4 657,277.9 659,278.7 661,279.5 663,281.3 665,283.1 667,283.4 669,282.2 671,281 681,281 683,281.3 685,281.6 687,281.9 689,282.2 691,282.5 693,280.7 695,278.9 697,277.1 699,275.3 701,273.5 703,272.2 705,271 707,269.8 709,268.5 711,270.9 713,273.3 715,275.8 717,278.2 719,280.6 721,283 723,283.8 725,284.6 727,285.4 729,286.2 731,287 733,288.1 735,289.1 737,290.2 739,291.2 741,292.3 743,293.3 745,294.4 747,294.2 749,292.9 751,291.5 753,290.4 755,289.3 757,288.2 759,287.1 761,286 763,285 765,284 767,283 769,282 771,281 773,280 775,279 777,280 779,281 781,282 783,282.5 785,283 787,283.5 789,284 791,284.5 793,284.5 795,284.4 797,284.4 799,284.3 801,284.3 803,284.1 805,284 807,283.8 809,283.7 811,283.5 813,283.2 815,282.9 817,282.6 819,282.3 821,282 823,281.8 825,281.6 827,281.4 829,281.2 831,281 833,280.3 835,279.6 837,278.9 839,278.2 841,277.5 843,277.4 845,277.3 847,277.2 849,277.1 851,277 853,278.8 855,280.6 857,282.4 859,284.2 861,286 863,288.3 865,290.5 867,292.8 869,295.1 871,297.4 873,295.4 875,293.4 877,291.4 879,289.5 881,287.5 883,284.5 885,281.5 887,278.5 889,275.5 891,272.5 893,271 895,269.5 897,268 899,266.5 901,265 903,265.6 905,266.2 907,266.8 909,267.4 911,268 913,269.5 915,271 917,272.5 919,274 921,275.5 923,276.1 925,276.7 927,277.3 929,277.9 931,278.5 933,278.5 933,398" fill="#0f8964"/><polygon points="131,398 131,318 133,322.8 135,327.6 137,326 139,318 141,310 143,309.2 145,308.4 147,307.6 149,306.8 151,306 153,306.4 155,306.8 157,307.2 159,307.6 161,308 171,308 173,307.8 175,307.6 177,307.4 179,307.2 181,307 183,306.4 185,305.8 187,305.2 189,304.6 191,304 193,302.8 195,301.6 197,300.4 199,299.2 201,298 203,296.6 205,295.2 207,293.8 209,292.4 211,291 213,289.9 215,288.7 217,287.6 219,287.3 221,288 223,288.6 225,289.2 227,289.8 229,290.4 231,291 233,292.2 235,293.4 237,294.6 239,295.8 241,297 243,298.6 245,300.2 247,301.8 249,303.4 251,305 253,308.7 255,312.4 257,316.1 259,319.7 261,323 263,326.3 265,324 267,316 269,308 271,300 273,299.4 275,298.8 277,298.2 279,297.6 281,297 283,296 285,295 287,294 289,293 291,292 293,291 295,290 301,290 303,290.4 305,290.8 307,291.2 309,291.6 311,292 313,291.6 315,291.2 317,290.8 319,290.4 321,290 323,289.6 325,289.2 327,288.8 329,288.4 331,288 333,286.7 335,285.3 337,284 339,282.7 341,283 343,285 345,287 347,288.4 349,289.2 351,290 353,291 355,292 357,292.3 359,292.7 361,293 363,293.5 365,294 367,301.3 369,306.7 371,310 373,311.7 375,313.3 377,315 379,316.2 381,317.4 383,317.1 385,315.3 387,313.6 389,311.8 391,310 393,309 395,308 397,307 399,306 401,305 403,304 405,303 407,302 409,301 411,300 413,299.6 415,299.2 417,298.8 419,298.4 421,298 423,298.4 425,298.8 427,299.2 429,299.6 431,300 433,300.6 435,301.2 437,301.8 439,302.4 441,303 443,299.4 445,295.8 447,292.2 449,288.6 451,285 453,283.8 455,282.6 457,282.4 459,283.2 461,284 465,284 467,283.8 469,283.4 471,283 473,283.4 475,283.8 477,284.4 479,285.2 481,286 483,288.4 485,290.8 487,293.6 489,296.8 491,300 493,302 495,304 497,306 499,308 501,310 503,302 505,294 507,286 509,278 511,270 513,264.4 515,258.8 517,258.4 519,263.2 521,268 523,271.2 525,274.4 527,277.6 529,280.8 531,284 533,272.8 535,261.6 537,256.3 539,256.9 541,257.5 543,258.2 545,258.8 547,259.4 549,260 551,258.9 553,257.8 555,256.7 557,255.6 559,254.9 561,254.8 563,254.6 565,254.8 567,255 569,255.2 571,255.4 573,255.7 575,255.9 577,256.4 579,257.3 581,258.2 583,259.1 585,260 587,261.6 589,263.1 591,264.7 593,266.2 595,268.4 597,271.1 599,273.9 601,276.6 603,279.6 605,282.7 607,285.8 609,288.9 611,292 613,294.9 615,297.8 617,300.7 619,303.6 621,306.1 623,308.3 625,310.6 627,312.8 629,315 631,311.7 633,308.3 635,305 637,301.7 639,298.9 641,296.7 643,294.4 645,292.2 647,290 649,290.2 651,290.4 653,290.7 655,290.9 657,291.4 659,292.2 661,293 663,294.2 665,295.4 667,295.6 669,294.8 671,294 673,294.4 675,294.8 677,295.2 679,295.6 681,296 683,296.4 685,296.8 687,297.2 689,297.6 691,298 693,296 695,294 697,292 699,290 701,288 703,286.2 705,284.5 707,282.8 709,281 711,283.8 713,286.7 715,289.5 717,292.3 719,295.2 721,298 723,298.8 725,299.6 727,300.4 729,301.2 731,302 733,303.1 735,304.1 737,305.2 739,306.3 741,307.3 743,308.4 745,309.5 747,309.8 749,309.4 751,309 753,308 755,307 757,306 759,305 761,304 763,302.9 765,301.7 767,300.6 769,299.4 771,298.3 773,297.1 775,296 777,296.7 779,297.3 781,298 791,298 793,298.1 795,298.2 797,298.4 799,298.5 801,298.6 803,298.5 805,298.4 807,298.2 809,298.1 811,298 813,297.6 815,297.2 817,296.8 819,296.4 821,296 823,295.6 825,295.2 827,294.8 829,294.4 831,294 833,293.2 835,292.4 837,291.6 839,290.8 841,290 851,290 853,292 855,294 857,296 859,298 861,300 863,302.2 865,304.4 867,306.6 869,308.8 871,311 873,308.8 875,306.6 877,304.4 879,302.2 881,300 883,297.4 885,294.8 887,292.2 889,289.6 891,287 893,285.8 895,284.6 897,283.4 899,282.2 901,281 903,281.4 905,281.8 907,282.2 909,282.6 911,283 913,284.2 915,285.4 917,286.6 919,287.8 921,289 923,289.6 925,290.2 927,290.8 929,291.4 931,292 933,292 933,398" fill="#207c7e"/><polygon points="131,398 131,331.5 133,335.3 135,339.1 137,337.1 139,329.3 141,321.5 143,320.5 145,319.5 147,318.6 149,317.8 151,317 153,317.4 155,317.8 157,318.2 159,318.6 161,319 163,319.3 165,319.6 167,319.9 169,320.2 171,320.5 173,320.6 175,320.7 177,320.8 179,320.9 181,321 183,320.5 185,320 187,319.5 189,319 191,318.5 193,317.4 195,316.3 197,315.2 199,314.1 201,313 203,311.3 205,309.6 207,307.9 209,306.2 211,304.5 213,303.1 215,301.6 217,300.2 219,300.2 221,301.5 223,302.3 225,303.1 227,303.9 229,304.7 231,305.5 233,306.8 235,308.1 237,309.4 239,310.7 241,312 243,314.1 245,316.2 247,318.3 249,320.4 251,322.5 253,325.5 255,328.5 257,331.5 259,334.4 261,337.3 263,340.1 265,337.7 267,330.1 269,322.6 271,315 273,314.6 275,314.1 277,313.7 279,313.2 281,312.8 283,311.2 285,309.7 287,308.1 289,306.6 291,305 293,304 295,303 297,303.3 299,303.7 301,304 303,304.4 305,304.8 307,305.2 309,305.6 311,306 313,306.4 315,306.8 317,307.2 319,307.6 321,308 323,307.4 325,306.8 327,306.2 329,305.6 331,305 333,303.9 335,302.8 337,301.7 339,300.6 341,300.7 343,302 345,303.3 347,304 351,304 353,305 355,306 357,306.5 359,307 361,307.5 363,307.8 365,308 367,314.3 369,319.2 371,322.5 373,323.8 375,325.2 377,326.5 379,327.3 381,328.1 383,327.9 385,326.7 387,325.4 389,324.2 391,323 393,322.2 395,321.4 397,320.6 399,319.8 401,319 403,318.5 405,318 407,317.5 409,317 411,316.5 413,316.3 415,316.1 417,315.9 419,315.7 421,315.5 423,316.2 425,316.9 427,317.6 429,318.3 431,319 433,320.1 435,321.1 437,322.2 439,323.3 441,324.4 443,318.5 445,312.6 447,306.7 449,300.9 451,295 453,293.8 455,292.6 457,292 465,292 467,291.9 469,291.7 471,291.5 473,292.1 475,292.7 477,293.5 479,294.5 481,295.5 483,299.3 485,303.1 487,308 489,314 491,320 493,322 495,324 497,326 499,328 501,330 503,324.5 505,319 507,313.5 509,308 511,302.5 513,298.4 515,294.3 517,292.8 519,293.9 521,295 523,296.2 525,297.4 527,298.6 529,299.8 531,301 533,295.2 535,289.4 537,287.2 539,288.6 541,290 543,291.4 545,292.8 547,294.2 549,295.6 551,295 553,294.3 555,293.7 557,293 559,292.2 561,291.1 563,290.1 565,288.7 567,287.3 569,286.7 571,286.2 573,285.6 575,285.1 577,285.1 579,285.6 581,286.1 583,286.6 585,287.1 587,288.1 589,289.2 591,290.2 593,291.2 595,292.7 597,294.7 599,296.6 601,298.6 603,300.9 605,303.5 607,306.2 609,308.8 611,311.5 613,314.3 615,317.2 617,320 619,322.9 621,325.4 623,327.6 625,329.7 627,331.9 629,334.1 631,329.1 633,324.1 635,319.1 637,314.1 639,310.5 641,308.2 643,305.9 645,303.6 647,301.3 649,301.5 651,301.7 653,302 655,302.2 657,302.5 659,302.9 661,303.3 663,304.4 665,305.5 667,306 671,306 673,306.6 675,307.2 677,307.8 679,308.4 681,309 683,309.6 685,310.2 687,310.8 689,311.4 691,312 693,309.5 695,307 697,304.5 699,302 701,299.5 703,297.9 705,296.3 707,294.6 709,293 711,295.8 713,298.7 715,301.5 717,304.3 719,307.2 721,310 723,310.6 725,311.2 727,311.8 729,312.4 731,313 733,314.3 735,315.5 737,316.8 739,318.1 741,319.3 743,320.6 745,321.9 747,322.2 749,321.6 751,321 753,319.8 755,318.6 757,317.4 759,316.2 761,315 763,314 765,313 767,312 769,311 771,310 773,309 775,308 777,308.3 779,308.7 781,309 783,309.6 785,310.2 787,310.8 789,311.4 791,312 793,312.3 795,312.6 797,312.9 799,313.2 801,313.6 803,313.4 805,313.3 807,313.2 809,313.1 811,313 813,312.8 815,312.6 817,312.4 819,312.2 821,312 823,311.2 825,310.4 827,309.6 829,308.8 831,308 833,307 835,306 837,305 839,304 841,303 843,303.4 845,303.8 847,304.2 849,304.6 851,305 853,307 855,309 857,311 859,313 861,315 863,317.7 865,320.4 867,323.1 869,325.8 871,328.5 873,325.8 875,323.1 877,320.4 879,317.7 881,315 883,312.2 885,309.4 887,306.6 889,303.8 891,301 893,299.9 895,298.8 897,297.7 899,296.6 901,295.5 903,295.9 905,296.3 907,296.7 909,297.1 911,297.5 913,298.7 915,299.9 917,301.1 919,302.3 921,303.5 923,304 925,304.5 927,305 929,305.5 931,306 933,306 933,398" fill="#2c6c98"/><polygon points="131,398 131,345 133,347.8 135,350.6 137,348.2 139,340.6 141,333 143,331.8 145,330.6 147,329.6 149,328.8 151,328 153,328.4 155,328.8 157,329.2 159,329.6 161,330 163,330.6 165,331.2 167,331.8 169,332.4 171,333 173,333.4 175,333.8 177,334.2 179,334.6 181,335 183,334.6 185,334.2 187,333.8 189,333.4 191,333 193,332 195,331 197,330 199,329 201,328 203,326 205,324 207,322 209,320 211,318 213,316.3 215,314.6 217,312.9 219,313 221,315 223,316 225,317 227,318 229,319 231,320 233,321.4 235,322.8 237,324.2 239,325.6 241,327 243,329.6 245,332.2 247,334.8 249,337.4 251,340 253,342.3 255,344.6 257,346.9 259,349.2 261,351.5 263,353.8 265,351.4 267,344.3 269,337.1 271,330 273,329.7 275,329.4 277,329.1 279,328.8 281,328.5 283,326.4 285,324.3 287,322.2 289,320.1 291,318 293,317 295,316 297,316.7 299,317.3 301,318 303,318.4 305,318.8 307,319.2 309,319.6 311,320 313,321.2 315,322.4 317,323.6 319,324.8 321,326 323,325.2 325,324.4 327,323.6 329,322.8 331,322 333,321.1 335,320.2 337,319.3 339,318.4 341,318.3 343,319 345,319.7 347,319.6 349,318.8 351,318 353,319 355,320 357,320.7 359,321.3 361,322 365,322 367,327.3 369,331.7 371,335 373,336 375,337 377,338 379,338.4 381,338.8 383,338.7 385,338 387,337.3 389,336.7 391,336 393,335.4 395,334.8 397,334.2 399,333.6 401,333 421,333 423,334 425,335 427,336 429,337 431,338 433,339.5 435,341.1 437,342.6 439,344.2 441,345.7 443,337.6 445,329.4 447,321.3 449,313.1 451,305 453,303.8 455,302.6 457,301.6 459,300.8 461,300 471,300 473,300.8 475,301.6 477,302.6 479,303.8 481,305 483,310.2 485,315.4 487,322.4 489,331.2 491,340 493,342 495,344 497,346 499,348 501,350 503,347 505,344 507,341 509,338 511,335 513,332.4 515,329.8 517,327.2 519,324.6 521,322 523,321.2 525,320.4 527,319.6 529,318.8 531,318 533,317.6 535,317.2 537,318.1 539,320.3 541,322.5 543,324.6 545,326.8 547,329 549,331.2 551,331 553,330.8 555,330.7 557,330.5 559,329.4 561,327.5 563,325.5 565,322.6 567,319.6 569,318.3 571,316.9 573,315.6 575,314.3 577,313.7 579,313.8 581,313.9 583,314.1 585,314.2 587,314.7 589,315.2 591,315.7 593,316.2 595,317.1 597,318.2 599,319.4 601,320.5 603,322.2 605,324.4 607,326.6 609,328.8 611,331 613,333.8 615,336.6 617,339.4 619,342.2 621,344.7 623,346.8 625,348.9 627,351.1 629,353.2 631,346.6 633,339.9 635,333.3 637,326.6 639,322.1 641,319.7 643,317.4 645,315 647,312.6 649,312.8 651,313 653,313.3 655,313.5 657,313.6 661,313.6 663,314.6 665,315.5 667,316.4 669,317.2 671,318 673,318.8 675,319.6 677,320.4 679,321.2 681,322 683,322.8 685,323.6 687,324.4 689,325.2 691,326 693,323 695,320 697,317 699,314 701,311 703,309.5 705,308 707,306.5 709,305 711,307.8 713,310.7 715,313.5 717,316.3 719,319.2 721,322 723,322.4 725,322.8 727,323.2 729,323.6 731,324 733,325.5 735,326.9 737,328.4 739,329.9 741,331.3 743,332.8 745,334.3 747,334.6 749,333.8 751,333 753,331.6 755,330.2 757,328.8 759,327.4 761,326 763,325.1 765,324.3 767,323.4 769,322.6 771,321.7 773,320.9 775,320 781,320 783,321.2 785,322.4 787,323.6 789,324.8 791,326 793,326.5 795,327 797,327.5 799,328 801,328.5 803,328.4 805,328.3 807,328.2 809,328.1 811,328 821,328 823,326.8 825,325.6 827,324.4 829,323.2 831,322 833,320.8 835,319.6 837,318.4 839,317.2 841,316 843,316.8 845,317.6 847,318.4 849,319.2 851,320 853,322 855,324 857,326 859,328 861,330 863,333.2 865,336.4 867,339.6 869,342.8 871,346 873,342.8 875,339.6 877,336.4 879,333.2 881,330 883,327 885,324 887,321 889,318 891,315 893,314 895,313 897,312 899,311 901,310 903,310.4 905,310.8 907,311.2 909,311.6 911,312 913,313.2 915,314.4 917,315.6 919,316.8 921,318 923,318.4 925,318.8 927,319.2 929,319.6 931,320 933,320 933,398" fill="#375db4"/><polygon points="131,398 131,355 133,357.4 135,359.8 137,357.3 139,349.9 141,342.5 143,341.5 145,340.5 147,339.8 149,339.4 151,339 153,339.4 155,339.8 157,340.2 159,340.6 161,341 163,341.5 165,342 167,342.5 169,343 171,343.5 173,343.9 175,344.3 177,344.7 179,345.1 181,345.5 183,345.3 185,345.1 187,344.9 189,344.7 191,344.5 193,343.6 195,342.7 197,341.8 199,340.9 201,340 203,338.3 205,336.6 207,334.9 209,333.2 211,331.5 213,329.6 215,327.8 217,325.9 219,325.8 221,327.5 223,328.5 225,329.5 227,330.5 229,331.5 231,332.5 233,333.9 235,335.3 237,336.7 239,338.1 241,339.5 243,342.1 245,344.7 247,347.3 249,349.9 251,352.5 253,354.6 255,356.8 257,358.9 259,361.3 261,363.8 263,366.3 265,363.9 267,356.8 269,349.6 271,342.5 273,342.3 275,342 277,341.8 279,341.5 281,341.3 283,339 285,336.8 287,334.5 289,332.3 291,330 293,328.8 295,327.5 297,328.3 299,329.2 301,330 303,330.5 305,331 307,331.5 309,332 311,332.5 313,334 315,335.5 317,337 319,338.5 321,340 323,339.2 325,338.4 327,337.6 329,336.8 331,336 333,334.8 335,333.7 337,332.5 339,331.3 341,331.2 343,332.1 345,333 347,333.1 349,332.3 351,331.5 353,332.8 355,334 357,335.3 359,336.7 361,338 363,337 365,336 367,341.3 369,345.2 371,347.5 373,348.3 375,349.2 377,350 379,350.4 381,350.8 383,350.7 385,350 387,349.3 389,348.7 391,348 393,347.6 395,347.1 397,346.7 399,346.2 401,345.8 403,345.8 405,345.9 407,345.9 409,346 411,346 413,346.1 415,346.2 417,346.3 419,346.4 421,346.5 423,347.3 425,348.1 427,348.9 429,349.7 431,350.5 433,351.7 435,352.8 437,354 439,355.2 441,356.4 443,353.6 445,350.8 447,348 449,345.3 451,342.5 453,335.9 455,329.3 457,324.3 459,320.9 461,317.5 463,317.1 465,316.7 467,316.4 469,316.2 471,316 473,317 475,318 477,318.8 479,319.4 481,320 483,326.1 485,332.2 487,339.2 489,347.1 491,355 493,357 495,359 497,361 499,363 501,365 503,361.5 505,358 507,354.5 509,351 511,347.5 513,344.6 515,341.6 517,338.7 519,335.7 521,332.8 523,332.3 525,331.9 527,331.4 529,331 531,330.5 533,330.3 535,330.1 537,331.2 539,333.7 541,336.1 543,338.6 545,341 547,343.5 549,345.9 557,345.9 559,345 561,343 563,341.1 565,338 567,334.9 569,333.5 571,332.1 573,330.7 575,329.3 577,328.6 579,328.7 581,328.8 583,328.9 585,329 587,329.5 589,330 591,330.5 593,331 595,332 597,333.3 599,334.6 601,335.9 603,337.7 605,339.9 607,342.1 609,344.3 611,346.5 613,349.1 615,351.7 617,354.3 619,356.9 621,359.1 623,360.8 625,362.5 627,364.3 629,366 631,359.9 633,353.7 635,347.6 637,341.5 639,337.2 641,334.9 643,332.6 645,330.3 647,328 649,328.2 651,328.4 653,328.6 655,328.8 657,329 659,329.1 661,329.3 663,330 665,330.7 667,331.6 669,332.8 671,334 673,334.8 675,335.6 677,336.4 679,337.2 681,338 683,338.9 685,339.7 687,340.6 689,341.4 691,342.3 693,339 695,335.8 697,332.5 699,329.3 701,326 703,324.9 705,323.8 707,322.6 709,321.5 711,323.9 713,326.3 715,328.8 717,331.2 719,333.6 721,336 723,336.4 725,336.8 727,337.2 729,337.6 731,338 733,339.2 735,340.3 737,341.5 739,342.7 741,343.8 743,345 745,346.2 747,346.5 749,346 751,345.5 753,344.4 755,343.3 757,342.2 759,341.1 761,340 763,339.1 765,338.3 767,337.4 769,336.6 771,335.7 773,334.9 775,334 777,333.8 779,333.7 781,333.5 783,334.9 785,336.3 787,337.7 789,339.1 791,340.5 793,341.1 795,341.7 797,342.3 799,342.9 801,343.5 803,343.6 805,343.7 807,343.8 809,343.9 811,344 821,344 823,342.9 825,341.8 827,340.7 829,339.6 831,338.5 833,336.9 835,335.3 837,333.7 839,332.1 841,330.5 843,331.4 845,332.3 847,333.2 849,334.1 851,335 853,337 855,339 857,341 859,343 861,345 863,348.2 865,351.4 867,354.6 869,357.8 871,361 873,357.8 875,354.6 877,351.4 879,348.2 881,345 883,342 885,339 887,336 889,333 891,330 893,328.7 895,327.4 897,326.1 899,324.8 901,323.5 903,324 905,324.5 907,325 909,325.5 911,326 913,327.1 915,328.2 917,329.3 919,330.4 921,331.5 923,332.2 925,332.9 927,333.6 929,334.3 931,335 933,335 933,398" fill="#404ed0"/><polygon points="131,398 131,365 133,367 135,369 137,366.4 139,359.2 141,352 143,351.2 145,350.4 147,350 151,350 153,350.4 155,350.8 157,351.2 159,351.6 161,352 163,352.4 165,352.8 167,353.2 169,353.6 171,354 173,354.4 175,354.8 177,355.2 179,355.6 181,356 191,356 193,355.2 195,354.4 197,353.6 199,352.8 201,352 203,350.6 205,349.2 207,347.8 209,346.4 211,345 213,343 215,341 217,339 219,338.7 221,340 223,341 225,342 227,343 229,344 231,345 233,346.4 235,347.8 237,349.2 239,350.6 241,352 243,354.6 245,357.2 247,359.8 249,362.4 251,365 253,367 255,369 257,371 259,373.3 261,376 263,378.7 265,376.4 267,369.3 269,362.1 271,355 273,354.8 275,354.6 277,354.4 279,354.2 281,354 283,351.6 285,349.2 287,346.8 289,344.4 291,342 293,340.5 295,339 297,340 299,341 301,342 303,342.6 305,343.2 307,343.8 309,344.4 311,345 313,346.8 315,348.6 317,350.4 319,352.2 321,354 323,353.2 325,352.4 327,351.6 329,350.8 331,350 333,348.6 335,347.1 337,345.7 339,344.2 341,344.1 343,345.2 345,346.4 347,346.6 349,345.8 351,345 353,346.5 355,348 357,350 359,352 361,354 363,352 365,350 367,355.3 369,358.7 371,360 373,360.7 375,361.3 377,362 379,362.4 381,362.8 383,362.7 385,362 387,361.3 389,360.7 391,360 393,359.7 395,359.4 397,359.1 399,358.8 401,358.5 403,358.6 405,358.7 407,358.8 409,358.9 411,359 413,359.2 415,359.4 417,359.6 419,359.8 421,360 423,360.6 425,361.2 427,361.8 429,362.4 431,363 433,363.8 435,364.6 437,365.4 439,366.2 441,367 443,369.6 445,372.2 447,374.8 449,377.4 451,380 453,368 455,356 457,347 459,341 461,335 463,334.2 465,333.4 467,332.8 469,332.4 471,332 473,333.2 475,334.4 477,335 481,335 483,342 485,349 487,356 489,363 491,370 493,372 495,374 497,376 499,378 501,380 503,376 505,372 507,368 509,364 511,360 513,356.7 515,353.4 517,350.1 519,346.8 521,343.5 523,343.4 525,343.3 527,343.2 529,343.1 531,343 535,343 537,344.4 539,347.1 541,349.8 543,352.5 545,355.2 547,357.9 549,360.6 551,360.8 553,361 555,361.2 557,361.4 559,360.5 561,358.6 563,356.7 565,353.4 567,350.1 569,348.6 571,347.2 573,345.7 575,344.2 577,343.5 579,343.6 581,343.6 583,343.7 585,343.7 587,344.2 589,344.8 591,345.3 593,345.8 595,346.9 597,348.4 599,349.9 601,351.4 603,353.2 605,355.4 607,357.6 609,359.8 611,362 613,364.4 615,366.8 617,369.2 619,371.6 621,373.5 623,374.8 625,376.1 627,377.5 629,378.8 631,373.2 633,367.6 635,361.9 637,356.3 639,352.4 641,350.1 643,347.8 645,345.6 647,343.3 649,343.5 651,343.7 653,343.9 655,344.1 657,344.4 659,344.7 661,345 663,345.4 665,345.8 667,346.8 669,348.4 671,350 673,350.8 675,351.6 677,352.4 679,353.2 681,354 683,354.9 685,355.8 687,356.7 689,357.6 691,358.5 693,355 695,351.5 697,348 699,344.5 701,341 703,340.2 705,339.5 707,338.8 709,338 711,340 713,342 715,344 717,346 719,348 721,350 723,350.4 725,350.8 727,351.2 729,351.6 731,352 733,352.9 735,353.7 737,354.6 739,355.5 741,356.3 743,357.2 745,358.1 747,358.4 749,358.2 751,358 753,357.2 755,356.4 757,355.6 759,354.8 761,354 763,353.1 765,352.3 767,351.4 769,350.6 771,349.7 773,348.9 775,348 777,347.7 779,347.3 781,347 783,348.6 785,350.2 787,351.8 789,353.4 791,355 793,355.7 795,356.4 797,357.1 799,357.8 801,358.5 803,358.8 805,359.1 807,359.4 809,359.7 811,360 821,360 823,359 825,358 827,357 829,356 831,355 833,353 835,351 837,349 839,347 841,345 843,346 845,347 847,348 849,349 851,350 853,352 855,354 857,356 859,358 861,360 863,363.2 865,366.4 867,369.6 869,372.8 871,376 873,372.8 875,369.6 877,366.4 879,363.2 881,360 883,357 885,354 887,351 889,348 891,345 893,343.4 895,341.8 897,340.2 899,338.6 901,337 903,337.6 905,338.2 907,338.8 909,339.4 911,340 913,341 915,342 917,343 919,344 921,345 923,346 925,347 927,348 929,349 931,350 933,350 933,398" fill="#4640e9"/><polygon points="131,398 131,381.5 133,382.1 135,382.7 137,381 139,377 141,373 143,372.2 145,371.4 147,371 151,371 153,372 155,373 157,374 159,375 161,376 163,376.7 165,377.4 167,378.1 169,378.8 171,379.5 173,379.7 175,379.9 177,380.1 179,380.3 181,380.5 183,380 185,379.5 187,379 189,378.5 191,378 193,377.1 195,376.2 197,375.3 199,374.4 201,373.5 203,371.8 205,370.1 207,368.4 209,366.7 211,365 213,363.3 215,361.6 217,359.9 219,359.7 221,361 223,362.1 225,363.2 227,364.3 229,365.4 231,366.5 233,367.5 235,368.5 237,369.5 239,370.5 241,371.5 243,374.2 245,376.9 247,379.6 249,382.3 251,385 253,386 255,387 257,388 259,389.6 261,391.8 263,393.9 265,392.5 267,387.5 269,382.5 271,377.5 273,377.4 275,377.3 277,377.2 279,377.1 281,377 283,375.4 285,373.8 287,372.2 289,370.6 291,369 293,368 295,367 297,367.7 299,368.3 301,369 303,369.5 305,370 307,370.5 309,371 311,371.5 313,370.4 315,369.3 317,368.2 319,367.1 321,366 323,365.6 325,365.2 327,364.8 329,364.4 331,364 333,362.8 335,361.6 337,360.3 339,359.1 341,359.8 343,362.2 345,364.8 347,366.3 349,366.9 351,367.5 353,368.8 355,370 361,370 363,368.8 365,367.5 367,374.5 369,378.7 371,380 373,380.3 375,380.7 377,381 379,382.2 381,383.4 383,383.3 385,381.8 387,380.4 389,378.9 391,377.5 393,376.2 395,375 397,373.8 399,372.5 401,371.2 403,371.5 405,371.8 407,372 409,372.2 411,372.5 413,372.8 415,373.1 417,373.4 419,373.7 421,374 423,375 425,376 427,377 429,378 431,379 433,380.4 435,381.8 437,383.2 439,384.6 441,386 443,387.3 445,388.6 447,389.9 449,391.2 451,392.5 453,382.5 455,372.5 457,363.5 459,355.5 461,347.5 463,346.3 465,345.1 467,344.4 469,344.2 471,344 473,345.8 475,347.6 477,349.8 479,352.4 481,355 483,361.5 485,368 487,374.5 489,381 491,387.5 493,389 495,390.5 497,392 499,393.5 501,395 503,391.5 505,388 507,384.5 509,381 511,377.5 513,373.9 515,370.3 517,366.8 519,363.1 521,359.6 523,359.7 525,359.9 527,360.1 529,360.3 531,360.5 533,360.3 535,360 537,361.4 539,364.5 541,367.6 543,370.6 545,373.7 547,376.8 549,379.9 551,380.2 553,380.6 555,380.9 557,381.3 559,380.4 561,378.3 563,376.1 565,372.3 567,368.5 569,366.7 571,365 573,363.3 575,361.6 577,360.8 579,360.9 581,361 583,361.1 585,361.2 587,361.7 589,362.1 591,362.6 593,363 595,363.7 597,364.8 599,365.9 601,367 603,369 605,372 607,375 609,378 611,381 613,382.7 615,384.4 617,386.1 619,387.8 621,389.1 623,390.1 625,391 627,392 629,392.9 631,387.5 633,382.2 635,376.8 637,371.4 639,367.9 641,366.1 643,364.2 645,362.4 647,360.6 649,361.1 651,361.5 653,361.9 655,362.4 657,362.8 659,363.1 661,363.5 663,363.7 665,363.9 667,364.6 669,365.8 671,367 673,367.4 675,367.8 677,368.2 679,368.6 681,369 683,371 685,373.1 687,375.1 689,377.2 691,379.2 693,375.5 695,371.8 697,368 699,364.2 701,360.5 703,359.6 705,358.8 707,357.9 709,357 711,358.8 713,360.5 715,362.2 717,364 719,365.8 721,367.5 723,368 725,368.5 727,369 729,369.5 731,370 733,371.6 735,373.1 737,374.7 739,376.3 741,377.8 743,379.4 745,381 747,381.2 749,380.1 751,379 753,377.2 755,375.4 757,373.6 759,371.8 761,370 763,369.4 765,368.9 767,368.3 769,367.7 771,367.1 773,366.6 775,366 777,366.2 779,366.3 781,366.5 783,368.2 785,369.9 787,371.6 789,373.3 791,375 793,375.9 795,376.7 797,377.6 799,378.4 801,379.2 803,379.4 805,379.6 807,379.7 809,379.9 811,380 821,380 823,378.7 825,377.4 827,376.1 829,374.8 831,373.5 833,371.3 835,369.1 837,366.9 839,364.7 841,362.5 843,363.4 845,364.3 847,365.2 849,366.1 851,367 853,369.1 855,371.2 857,373.3 859,375.4 861,377.5 863,380.1 865,382.7 867,385.3 869,387.9 871,390.5 873,388.2 875,385.9 877,383.6 879,381.3 881,379 883,375.2 885,371.4 887,367.6 889,363.8 891,360 893,358.2 895,356.4 897,354.6 899,352.8 901,351 903,351.8 905,352.6 907,353.4 909,354.2 911,355 913,356.3 915,357.6 917,358.9 919,360.2 921,361.5 923,362.7 925,363.9 927,365.1 929,366.3 931,367.5 933,367.5 933,398" fill="#4832fc"/><polygon points="131,398 131,398 133,397.2 135,396.4 137,395.6 139,394.8 141,394 143,393.2 145,392.4 147,392 151,392 153,393.6 155,395.2 157,396.8 159,398 195,398 197,397 199,396 201,395 203,393 205,391 207,389 209,387 211,385 213,383.6 215,382.1 217,380.7 219,380.7 221,382 223,383.2 225,384.4 227,385.6 229,386.8 231,388 233,388.6 235,389.2 237,389.8 239,390.4 241,391 243,393.8 245,396.6 247,398 285,398 287,397.6 289,396.8 291,396 293,395.5 295,395 297,395.3 299,395.7 301,396 303,396.4 305,396.8 307,397.2 309,397.6 311,398 313,394 315,390 317,386 319,382 321,378 331,378 333,377 335,376 337,375 339,374 341,375.4 343,379.2 345,383.1 347,386 349,388 351,390 353,391 355,392 357,390 359,388 361,386 363,385.5 365,385 367,393.7 369,398 387,398 389,397.2 391,395 393,392.8 395,390.6 397,388.4 399,386.2 401,384 403,384.4 405,384.8 407,385.2 409,385.6 411,386 413,386.4 415,386.8 417,387.2 419,387.6 421,388 423,389.4 425,390.8 427,392.2 429,393.6 431,395 433,397 435,398 451,398 453,397 455,389 457,380 459,370 461,360 463,358.4 465,356.8 467,356 471,356 473,358.4 475,360.8 477,364.6 479,369.8 481,375 483,381 485,387 487,393 489,398 509,398 511,395 513,391.1 515,387.2 517,383.4 519,379.5 521,375.6 523,376.1 525,376.6 527,377 529,377.5 531,378 533,377.5 535,377 537,378.5 539,381.9 541,385.4 543,388.8 545,392.2 547,395.7 549,398 561,398 563,395.6 565,391.2 567,386.8 569,384.8 571,382.9 573,380.9 575,379 577,378.1 579,378.3 581,378.4 583,378.6 585,378.8 587,379.1 589,379.5 591,379.8 593,380.1 595,380.6 597,381.3 599,381.9 601,382.6 603,384.8 605,388.6 607,392.4 609,396.2 611,398 631,398 633,396.8 635,391.7 637,386.6 639,383.3 641,382 643,380.7 645,379.3 647,378 649,378.7 651,379.3 653,380 655,380.7 657,381.2 659,381.6 661,382 665,382 667,382.4 669,383.2 671,384 681,384 683,387.2 685,390.4 687,393.6 689,396.8 691,398 693,396 695,392 697,388 699,384 701,380 703,379 705,378 707,377 709,376 711,377.5 713,379 715,380.5 717,382 719,383.5 721,385 723,385.6 725,386.2 727,386.8 729,387.4 731,388 733,390.3 735,392.5 737,394.8 739,397.1 741,398 751,398 753,397.2 755,394.4 757,391.6 759,388.8 761,386 763,385.7 765,385.4 767,385.1 769,384.9 771,384.6 773,384.3 775,384 777,384.7 779,385.3 781,386 783,387.8 785,389.6 787,391.4 789,393.2 791,395 793,396 795,397 797,398 823,398 825,396.8 827,395.2 829,393.6 831,392 833,389.6 835,387.2 837,384.8 839,382.4 841,380 843,380.8 845,381.6 847,382.4 849,383.2 851,384 853,386.2 855,388.4 857,390.6 859,392.8 861,395 863,397 865,398 881,398 883,393.4 885,388.8 887,384.2 889,379.6 891,375 893,373 895,371 897,369 899,367 901,365 903,366 905,367 907,368 909,369 911,370 913,371.6 915,373.2 917,374.8 919,376.4 921,378 923,379.4 925,380.8 927,382.2 929,383.6 931,385 933,385 933,398" fill="#781ef4"/><polygon points="131,398 131,398 215,398 217,396.1 219,397 221,398 319,398 321,394 331,394 333,392.4 335,390.8 337,389.2 339,387.6 341,389.4 343,394.6 345,398 457,398 459,397 461,390 463,388.8 465,387.6 467,387 471,387 473,388.6 475,390.2 477,392.3 479,394.9 481,397.5 483,398 517,398 519,396.7 521,392.8 523,393 525,393.3 527,393.5 529,393.8 531,394 533,393.3 535,392.5 537,393.7 539,396.7 541,398 889,398 891,397.5 893,394 895,390.5 897,387 899,383.5 901,380 903,381 905,382 907,383 909,384 911,385 913,386.4 915,387.8 917,389.2 919,390.6 921,392 923,394.1 925,396.2 927,398 933,398 933,398" fill="#a00af0"/><polygon points="131,398 131,398 899,398 901,395 903,396 905,397 907,398 933,398 933,398" fill="#d200f0"/><polygon points="353,159 358,157.5 364,158 367,160 367,170 362,171 356,170.5 353,169" fill="#e1f404"/><polygon points="353,176 358,175 364,175.5 367,177 367,185 362,186 356,185.5 353,184.5" fill="#ffb200"/><rect x="131" y="105" width="32" height="9" fill="#ff0000"/><rect x="163" y="105" width="22" height="9" fill="#ff0000"/><rect x="185" y="105" width="22" height="9" fill="#d70000"/><rect x="207" y="105" width="30" height="9" fill="#ff0000"/><rect x="237" y="105" width="28" height="9" fill="#d70000"/><rect x="265" y="105" width="62" height="9" fill="#b40000"/><rect x="327" y="105" width="120" height="9" fill="#d70000"/><rect x="447" y="105" width="33" height="9" fill="#ff0000"/><rect x="480" y="105" width="5" height="9" fill="#ff2800"/><rect x="485" y="105" width="35" height="9" fill="#ff0000"/><rect x="520" y="105" width="50" height="9" fill="#d70000"/><rect x="570" y="105" width="75" height="9" fill="#ff0000"/><rect x="645" y="105" width="40" height="9" fill="#d70000"/><rect x="685" y="105" width="75" height="9" fill="#ff0000"/><rect x="760" y="105" width="39" height="9" fill="#d70000"/><rect x="799" y="105" width="84" height="9" fill="#ff0000"/><rect x="897" y="105" width="36" height="9" fill="#ff0000"/><rect x="165" y="105" width="20" height="4" fill="#d70000"/></g>
<path d="M90.5 104.5H933.5V398.5H90.5ZM90.5 104L90.5 100M90.5 399L90.5 404M95.5 104L95.5 100M95.5 399L95.5 404M100.5 104L100.5 100M100.5 399L100.5 404M105.5 104L105.5 100M105.5 399L105.5 404M110.5 104L110.5 100M110.5 399L110.5 404M115.5 104L115.5 100M115.5 399L115.5 404M120.5 104L120.5 100M120.5 399L120.5 404M125.5 104L125.5 100M125.5 399L125.5 404M130.5 104L130.5 100M130.5 399L130.5 404M135.5 104L135.5 100M135.5 399L135.5 404M140.5 104L140.5 100M140.5 399L140.5 404M145.5 104L145.5 95M145.5 399L145.5 408M150.5 104L150.5 100M150.5 399L150.5 404M155.5 104L155.5 100M155.5 399L155.5 404M160.5 104L160.5 100M160.5 399L160.5 404M165.5 104L165.5 100M165.5 399L165.5 404M170.5 104L170.5 100M170.5 399L170.5 404M175.5 104L175.5 100M175.5 399L175.5 404M180.5 104L180.5 100M180.5 399L180.5 404M185.5 104L185.5 100M185.5 399L185.5 404M190.5 104L190.5 100M190.5 399L190.5 404M195.5 104L195.5 100M195.5 399L195.5 404M200.5 104L200.5 100M200.5 399L200.5 404M205.5 104L205.5 100M205.5 399L205.5 404M210.5 104L210.5 100M210.5 399L210.5 404M215.5 104L215.5 100M215.5 399L215.5 404M220.5 104L220.5 100M220.5 399L220.5 404M225.5 104L225.5 100M225.5 399L225.5 404M230.5 104L230.5 100M230.5 399L230.5 404M235.5 104L235.5 100M235.5 399L235.5 404M240.5 104L240.5 100M240.5 399L240.5 404M245.5 104L245.5 100M245.5 399L245.5 404M250.5 104L250.5 100M250.5 399L250.5 404M255.5 104L255.5 100M255.5 399L255.5 404M260.5 104L260.5 100M260.5 399L260.5 404M265.5 104L265.5 95M265.5 399L265.5 408M270.5 104L270.5 100M270.5 399L270.5 404M275.5 104L275.5 100M275.5 399L275.5 404M280.5 104L280.5 100M280.5 399L280.5 404M285.5 104L285.5 100M285.5 399L285.5 404M290.5 104L290.5 100M290.5 399L290.5 404M295.5 104L295.5 100M295.5 399L295.5 404M300.5 104L300.5 100M300.5 399L300.5 404M305.5 104L305.5 100M305.5 399L305.5 404M310.5 104L310.5 100M310.5 399L310.5 404M315.5 104L315.5 100M315.5 399L315.5 404M320.5 104L320.5 100M320.5 399L320.5 404M325.5 104L325.5 100M325.5 399L325.5 404M330.5 104L330.5 100M330.5 399L330.5 404M335.5 104L335.5 100M335.5 399L335.5 404M340.5 104L340.5 100M340.5 399L340.5 404M345.5 104L345.5 100M345.5 399L345.5 404M350.5 104L350.5 100M350.5 399L350.5 404M355.5 104L355.5 100M355.5 399L355.5 404M360.5 104L360.5 100M360.5 399L360.5 404M365.5 104L365.5 100M365.5 399L365.5 404M370.5 104L370.5 100M370.5 399L370.5 404M375.5 104L375.5 100M375.5 399L375.5 404M380.5 104L380.5 100M380.5 399L380.5 404M385.5 104L385.5 95M385.5 399L385.5 408M390.5 104L390.5 100M390.5 399L390.5 404M395.5 104L395.5 100M395.5 399L395.5 404M400.5 104L400.5 100M400.5 399L400.5 404M405.5 104L405.5 100M405.5 399L405.5 404M410.5 104L410.5 100M410.5 399L410.5 404M415.5 104L415.5 100M415.5 399L415.5 404M420.5 104L420.5 100M420.5 399L420.5 404M425.5 104L425.5 100M425.5 399L425.5 404M430.5 104L430.5 100M430.5 399L430.5 404M435.5 104L435.5 100M435.5 399L435.5 404M440.5 104L440.5 100M440.5 399L440.5 404M445.5 104L445.5 100M445.5 399L445.5 404M450.5 104L450.5 100M450.5 399L450.5 404M455.5 104L455.5 100M455.5 399L455.5 404M460.5 104L460.5 100M460.5 399L460.5 404M465.5 104L465.5 100M465.5 399L465.5 404M470.5 104L470.5 100M470.5 399L470.5 404M475.5 104L475.5 100M475.5 399L475.5 404M480.5 104L480.5 100M480.5 399L480.5 404M485.5 104L485.5 100M485.5 399L485.5 404M490.5 104L490.5 100M490.5 399L490.5 404M495.5 104L495.5 100M495.5 399L495.5 404M500.5 104L500.5 100M500.5 399L500.5 404M505.5 104L505.5 95M505.5 399L505.5 408M510.5 104L510.5 100M510.5 399L510.5 404M515.5 104L515.5 100M515.5 399L515.5 404M520.5 104L520.5 100M520.5 399L520.5 404M525.5 104L525.5 100M525.5 399L525.5 404M530.5 104L530.5 100M530.5 399L530.5 404M535.5 104L535.5 100M535.5 399L535.5 404M540.5 104L540.5 100M540.5 399L540.5 404M545.5 104L545.5 100M545.5 399L545.5 404M550.5 104L550.5 100M550.5 399L550.5 404M555.5 104L555.5 100M555.5 399L555.5 404M560.5 104L560.5 100M560.5 399L560.5 404M565.5 104L565.5 100M565.5 399L565.5 404M570.5 104L570.5 100M570.5 399L570.5 404M575.5 104L575.5 100M575.5 399L575.5 404M580.5 104L580.5 100M580.5 399L580.5 404M585.5 104L585.5 100M585.5 399L585.5 404M590.5 104L590.5 100M590.5 399L590.5 404M595.5 104L595.5 100M595.5 399L595.5 404M600.5 104L600.5 100M600.5 399L600.5 404M605.5 104L605.5 100M605.5 399L605.5 404M610.5 104L610.5 100M610.5 399L610.5 404M615.5 104L615.5 100M615.5 399L615.5 404M620.5 104L620.5 100M620.5 399L620.5 404M625.5 104L625.5 95M625.5 399L625.5 408M630.5 104L630.5 100M630.5 399L630.5 404M635.5 104L635.5 100M635.5 399L635.5 404M640.5 104L640.5 100M640.5 399L640.5 404M645.5 104L645.5 100M645.5 399L645.5 404M650.5 104L650.5 100M650.5 399L650.5 404M655.5 104L655.5 100M655.5 399L655.5 404M660.5 104L660.5 100M660.5 399L660.5 404M665.5 104L665.5 100M665.5 399L665.5 404M670.5 104L670.5 100M670.5 399L670.5 404M675.5 104L675.5 100M675.5 399L675.5 404M680.5 104L680.5 100M680.5 399L680.5 404M685.5 104L685.5 100M685.5 399L685.5 404M690.5 104L690.5 100M690.5 399L690.5 404M695.5 104L695.5 100M695.5 399L695.5 404M700.5 104L700.5 100M700.5 399L700.5 404M705.5 104L705.5 100M705.5 399L705.5 404M710.5 104L710.5 100M710.5 399L710.5 404M715.5 104L715.5 100M715.5 399L715.5 404M720.5 104L720.5 100M720.5 399L720.5 404M725.5 104L725.5 100M725.5 399L725.5 404M729.5 104L729.5 100M729.5 399L729.5 404M734.5 104L734.5 100M734.5 399L734.5 404M739.5 104L739.5 100M739.5 399L739.5 404M744.5 104L744.5 95M744.5 399L744.5 408M749.5 104L749.5 100M749.5 399L749.5 404M754.5 104L754.5 100M754.5 399L754.5 404M759.5 104L759.5 100M759.5 399L759.5 404M764.5 104L764.5 100M764.5 399L764.5 404M769.5 104L769.5 100M769.5 399L769.5 404M774.5 104L774.5 100M774.5 399L774.5 404M779.5 104L779.5 100M779.5 399L779.5 404M784.5 104L784.5 100M784.5 399L784.5 404M789.5 104L789.5 100M789.5 399L789.5 404M794.5 104L794.5 100M794.5 399L794.5 404M799.5 104L799.5 100M799.5 399L799.5 404M804.5 104L804.5 100M804.5 399L804.5 404M809.5 104L809.5 100M809.5 399L809.5 404M814.5 104L814.5 100M814.5 399L814.5 404M819.5 104L819.5 100M819.5 399L819.5 404M824.5 104L824.5 100M824.5 399L824.5 404M829.5 104L829.5 100M829.5 399L829.5 404M834.5 104L834.5 100M834.5 399L834.5 404M839.5 104L839.5 100M839.5 399L839.5 404M844.5 104L844.5 100M844.5 399L844.5 404M849.5 104L849.5 100M849.5 399L849.5 404M854.5 104L854.5 100M854.5 399L854.5 404M859.5 104L859.5 100M859.5 399L859.5 404M864.5 104L864.5 95M864.5 399L864.5 408M869.5 104L869.5 100M869.5 399L869.5 404M874.5 104L874.5 100M874.5 399L874.5 404M879.5 104L879.5 100M879.5 399L879.5 404M884.5 104L884.5 100M884.5 399L884.5 404M889.5 104L889.5 100M889.5 399L889.5 404M894.5 104L894.5 100M894.5 399L894.5 404M899.5 104L899.5 100M899.5 399L899.5 404M904.5 104L904.5 100M904.5 399L904.5 404M909.5 104L909.5 100M909.5 399L909.5 404M914.5 104L914.5 100M914.5 399L914.5 404M919.5 104L919.5 100M919.5 399L919.5 404M924.5 104L924.5 100M924.5 399L924.5 404M929.5 104L929.5 100M929.5 399L929.5 404M80 123.5L90 123.5M934 123.5L944 123.5M80 143.5L90 143.5M934 143.5L944 143.5M80 162.5L90 162.5M934 162.5L944 162.5M80 182.5L90 182.5M934 182.5L944 182.5M80 202.5L90 202.5M934 202.5L944 202.5M80 221.5L90 221.5M934 221.5L944 221.5M80 241.5L90 241.5M934 241.5L944 241.5M80 260.5L90 260.5M934 260.5L944 260.5M80 280.5L90 280.5M934 280.5L944 280.5M80 300.5L90 300.5M934 300.5L944 300.5M80 319.5L90 319.5M934 319.5L944 319.5M80 339.5L90 339.5M934 339.5L944 339.5M80 358.5L90 358.5M934 358.5L944 358.5M80 378.5L90 378.5M934 378.5L944 378.5M80 398.5L90 398.5M934 398.5L944 398.5" stroke="#000" stroke-width="1" fill="none"/>
<rect x="948" y="104.00" width="22" height="9.48" fill="#8c0000"/>
<rect x="948" y="113.48" width="22" height="9.48" fill="#b40000"/>
<rect x="948" y="122.97" width="22" height="9.48" fill="#d70000"/>
<rect x="948" y="132.45" width="22" height="9.48" fill="#ff0000"/>
<rect x="948" y="141.94" width="22" height="9.48" fill="#ff2800"/>
<rect x="948" y="151.42" width="22" height="9.48" fill="#ff5000"/>
<rect x="948" y="160.90" width="22" height="9.48" fill="#ff7300"/>
<rect x="948" y="170.39" width="22" height="9.48" fill="#ff8c00"/>
<rect x="948" y="179.87" width="22" height="9.48" fill="#ffac00"/>
<rect x="948" y="189.35" width="22" height="9.48" fill="#ffd000"/>
<rect x="948" y="198.84" width="22" height="9.48" fill="#fffa00"/>
<rect x="948" y="208.32" width="22" height="9.48" fill="#ebf800"/>
<rect x="948" y="217.81" width="22" height="9.48" fill="#d4ee08"/>
<rect x="948" y="227.29" width="22" height="9.48" fill="#b6e119"/>
<rect x="948" y="236.77" width="22" height="9.48" fill="#a0d726"/>
<rect x="948" y="246.26" width="22" height="9.48" fill="#88cd2a"/>
<rect x="948" y="255.74" width="22" height="9.48" fill="#6ec330"/>
<rect x="948" y="265.23" width="22" height="9.48" fill="#50b93a"/>
<rect x="948" y="274.71" width="22" height="9.48" fill="#34ac40"/>
<rect x="948" y="284.19" width="22" height="9.48" fill="#23a346"/>
<rect x="948" y="293.68" width="22" height="9.48" fill="#05984b"/>
<rect x="948" y="303.16" width="22" height="9.48" fill="#0f8964"/>
<rect x="948" y="312.65" width="22" height="9.48" fill="#207c7e"/>
<rect x="948" y="322.13" width="22" height="9.48" fill="#2c6c98"/>
<rect x="948" y="331.61" width="22" height="9.48" fill="#375db4"/>
<rect x="948" y="341.10" width="22" height="9.48" fill="#404ed0"/>
<rect x="948" y="350.58" width="22" height="9.48" fill="#4640e9"/>
<rect x="948" y="360.06" width="22" height="9.48" fill="#4832fc"/>
<rect x="948" y="369.55" width="22" height="9.48" fill="#781ef4"/>
<rect x="948" y="379.03" width="22" height="9.48" fill="#a00af0"/>
<rect x="948" y="388.52" width="22" height="9.48" fill="#d200f0"/>
<path d="M948 104.5H971M948 113.5H971M948 123.5H971M948 132.5H971M948 142.5H971M948 151.5H971M948 161.5H971M948 170.5H971M948 180.5H971M948 189.5H971M948 199.5H971M948 208.5H971M948 218.5H971M948 227.5H971M948 237.5H971M948 246.5H971M948 256.5H971M948 265.5H971M948 275.5H971M948 284.5H971M948 294.5H971M948 303.5H971M948 313.5H971M948 322.5H971M948 332.5H971M948 341.5H971M948 351.5H971M948 360.5H971M948 370.5H971M948 379.5H971M948 389.5H971M948 398.5H971M948.5 104V399M970.5 104V399" stroke="#000" stroke-width="1" fill="none"/>
<text x="976" y="118.8" font-size="12.5" stroke="#fff" stroke-width="0.15">13</text>
<text x="976" y="137.8" font-size="12.5" stroke="#fff" stroke-width="0.15">12.6</text>
<text x="976" y="156.7" font-size="12.5" stroke="#fff" stroke-width="0.15">12.2</text>
<text x="976" y="175.7" font-size="12.5" stroke="#fff" stroke-width="0.15">11.8</text>
<text x="976" y="194.7" font-size="12.5" stroke="#fff" stroke-width="0.15">11.4</text>
<text x="976" y="213.6" font-size="12.5" stroke="#fff" stroke-width="0.15">11</text>
<text x="976" y="232.6" font-size="12.5" stroke="#fff" stroke-width="0.15">10.6</text>
<text x="976" y="251.6" font-size="12.5" stroke="#fff" stroke-width="0.15">10.2</text>
<text x="976" y="270.5" font-size="12.5" stroke="#fff" stroke-width="0.15">9.8</text>
<text x="976" y="289.5" font-size="12.5" stroke="#fff" stroke-width="0.15">9.4</text>
<text x="976" y="308.5" font-size="12.5" stroke="#fff" stroke-width="0.15">9</text>
<text x="976" y="327.4" font-size="12.5" stroke="#fff" stroke-width="0.15">8.6</text>
<text x="976" y="346.4" font-size="12.5" stroke="#fff" stroke-width="0.15">8.2</text>
<text x="976" y="365.4" font-size="12.5" stroke="#fff" stroke-width="0.15">7.8</text>
<text x="976" y="384.3" font-size="12.5" stroke="#fff" stroke-width="0.15">7.4</text>
<text x="976" y="403.3" font-size="12.5" stroke="#fff" stroke-width="0.15">7</text>
<text x="90" y="35" font-size="11.5" textLength="148" lengthAdjust="spacingAndGlyphs" stroke="#fff" stroke-width="0.15">LONGITUDE : 122W(&#8722;122)</text>
<text x="90" y="47.6" font-size="11.5" textLength="98.5" lengthAdjust="spacingAndGlyphs" stroke="#fff" stroke-width="0.15">LATITUDE : 36.8N</text>
<text x="90" y="60.2" font-size="11.5" textLength="71" lengthAdjust="spacingAndGlyphs" stroke="#fff" stroke-width="0.15">YEAR : 2011</text>
<text x="225.7" y="81" font-size="13.5" textLength="572.5" lengthAdjust="spacingAndGlyphs" stroke="#fff" stroke-width="0.15">Hourly Gridded MBARI Mooring M1 Sea Water Temperature and Salinity Observations</text>
<text x="75.5" y="127.6" font-size="12.5" text-anchor="end" stroke="#fff" stroke-width="0.15">20</text>
<text x="75.5" y="166.6" font-size="12.5" text-anchor="end" stroke="#fff" stroke-width="0.15">60</text>
<text x="75.5" y="206.6" font-size="12.5" text-anchor="end" stroke="#fff" stroke-width="0.15">100</text>
<text x="75.5" y="245.6" font-size="12.5" text-anchor="end" stroke="#fff" stroke-width="0.15">140</text>
<text x="75.5" y="284.6" font-size="12.5" text-anchor="end" stroke="#fff" stroke-width="0.15">180</text>
<text x="75.5" y="323.6" font-size="12.5" text-anchor="end" stroke="#fff" stroke-width="0.15">220</text>
<text x="75.5" y="362.6" font-size="12.5" text-anchor="end" stroke="#fff" stroke-width="0.15">260</text>
<text x="75.5" y="402.6" font-size="12.5" text-anchor="end" stroke="#fff" stroke-width="0.15">300</text>
<text x="115.5" y="419.3" font-size="12.5" text-anchor="middle" stroke="#fff" stroke-width="0.12">18</text>
<text x="145.5" y="419.3" font-size="12.5" text-anchor="middle" stroke="#fff" stroke-width="0.12">00</text>
<text x="175.5" y="419.3" font-size="12.5" text-anchor="middle" stroke="#fff" stroke-width="0.12">06</text>
<text x="205.5" y="419.3" font-size="12.5" text-anchor="middle" stroke="#fff" stroke-width="0.12">12</text>
<text x="235.5" y="419.3" font-size="12.5" text-anchor="middle" stroke="#fff" stroke-width="0.12">18</text>
<text x="265.5" y="419.3" font-size="12.5" text-anchor="middle" stroke="#fff" stroke-width="0.12">00</text>
<text x="295.5" y="419.3" font-size="12.5" text-anchor="middle" stroke="#fff" stroke-width="0.12">06</text>
<text x="325.5" y="419.3" font-size="12.5" text-anchor="middle" stroke="#fff" stroke-width="0.12">12</text>
<text x="355.5" y="419.3" font-size="12.5" text-anchor="middle" stroke="#fff" stroke-width="0.12">18</text>
<text x="385.5" y="419.3" font-size="12.5" text-anchor="middle" stroke="#fff" stroke-width="0.12">00</text>
<text x="415.5" y="419.3" font-size="12.5" text-anchor="middle" stroke="#fff" stroke-width="0.12">06</text>
<text x="445.5" y="419.3" font-size="12.5" text-anchor="middle" stroke="#fff" stroke-width="0.12">12</text>
<text x="475.5" y="419.3" font-size="12.5" text-anchor="middle" stroke="#fff" stroke-width="0.12">18</text>
<text x="505.5" y="419.3" font-size="12.5" text-anchor="middle" stroke="#fff" stroke-width="0.12">00</text>
<text x="535.5" y="419.3" font-size="12.5" text-anchor="middle" stroke="#fff" stroke-width="0.12">06</text>
<text x="565.5" y="419.3" font-size="12.5" text-anchor="middle" stroke="#fff" stroke-width="0.12">12</text>
<text x="595.5" y="419.3" font-size="12.5" text-anchor="middle" stroke="#fff" stroke-width="0.12">18</text>
<text x="625.5" y="419.3" font-size="12.5" text-anchor="middle" stroke="#fff" stroke-width="0.12">00</text>
<text x="655.5" y="419.3" font-size="12.5" text-anchor="middle" stroke="#fff" stroke-width="0.12">06</text>
<text x="685.5" y="419.3" font-size="12.5" text-anchor="middle" stroke="#fff" stroke-width="0.12">12</text>
<text x="715.5" y="419.3" font-size="12.5" text-anchor="middle" stroke="#fff" stroke-width="0.12">18</text>
<text x="744.5" y="419.3" font-size="12.5" text-anchor="middle" stroke="#fff" stroke-width="0.12">00</text>
<text x="774.5" y="419.3" font-size="12.5" text-anchor="middle" stroke="#fff" stroke-width="0.12">06</text>
<text x="804.5" y="419.3" font-size="12.5" text-anchor="middle" stroke="#fff" stroke-width="0.12">12</text>
<text x="834.5" y="419.3" font-size="12.5" text-anchor="middle" stroke="#fff" stroke-width="0.12">18</text>
<text x="864.5" y="419.3" font-size="12.5" text-anchor="middle" stroke="#fff" stroke-width="0.12">00</text>
<text x="894.5" y="419.3" font-size="12.5" text-anchor="middle" stroke="#fff" stroke-width="0.12">06</text>
<text x="924.5" y="419.3" font-size="12.5" text-anchor="middle" stroke="#fff" stroke-width="0.12">12</text>
<text transform="translate(0,438.8) scale(0.84,1)" x="107.20 120.24 132.86 155.06 168.45" y="0" text-anchor="middle" font-size="17.8" stroke="#fff" stroke-width="0.3">DEC13</text>
<text transform="translate(0,438.8) scale(0.84,1)" x="207.41 220.45 233.07 255.27 268.66" y="0" text-anchor="middle" font-size="17.8" stroke="#fff" stroke-width="0.3">DEC14</text>
<text transform="translate(0,438.8) scale(0.84,1)" x="350.10 363.14 375.75 397.96 411.35" y="0" text-anchor="middle" font-size="17.8" stroke="#fff" stroke-width="0.3">DEC15</text>
<text transform="translate(0,438.8) scale(0.84,1)" x="492.79 505.82 518.44 540.64 554.04" y="0" text-anchor="middle" font-size="17.8" stroke="#fff" stroke-width="0.3">DEC16</text>
<text transform="translate(0,438.8) scale(0.84,1)" x="635.47 648.51 661.13 683.33 696.72" y="0" text-anchor="middle" font-size="17.8" stroke="#fff" stroke-width="0.3">DEC17</text>
<text transform="translate(0,438.8) scale(0.84,1)" x="778.16 791.19 803.81 826.01 839.41" y="0" text-anchor="middle" font-size="17.8" stroke="#fff" stroke-width="0.3">DEC18</text>
<text transform="translate(0,438.8) scale(0.84,1)" x="920.84 933.88 946.50 968.70 982.09" y="0" text-anchor="middle" font-size="17.8" stroke="#fff" stroke-width="0.3">DEC19</text>
<text transform="translate(0,438.8) scale(0.84,1)" x="1034.05 1047.08 1059.70 1081.90 1095.30" y="0" text-anchor="middle" font-size="17.8" stroke="#fff" stroke-width="0.3">DEC20</text>
<text transform="translate(42.8,289.3) rotate(-90)" x="0" y="0" font-size="11.5" textLength="71.5" lengthAdjust="spacingAndGlyphs">DEPTH (m)</text>
<text x="309.8" y="476" font-size="22.5" stroke="#fff" stroke-width="0.15" style="font-family:'Liberation Serif',serif" textLength="38.2" lengthAdjust="spacingAndGlyphs">Sea</text>
<text x="363.2" y="476" font-size="22.5" stroke="#fff" stroke-width="0.15" style="font-family:'Liberation Serif',serif" textLength="65.5" lengthAdjust="spacingAndGlyphs">Water</text>
<text x="442.8" y="476" font-size="22.5" stroke="#fff" stroke-width="0.15" style="font-family:'Liberation Serif',serif" textLength="154.4" lengthAdjust="spacingAndGlyphs">Temperature</text>
<text x="612.5" y="476" font-size="22.5" stroke="#fff" stroke-width="0.15" style="font-family:'Liberation Serif',serif" textLength="102.5" lengthAdjust="spacingAndGlyphs">(Celsius)</text>
</svg></body></html>
